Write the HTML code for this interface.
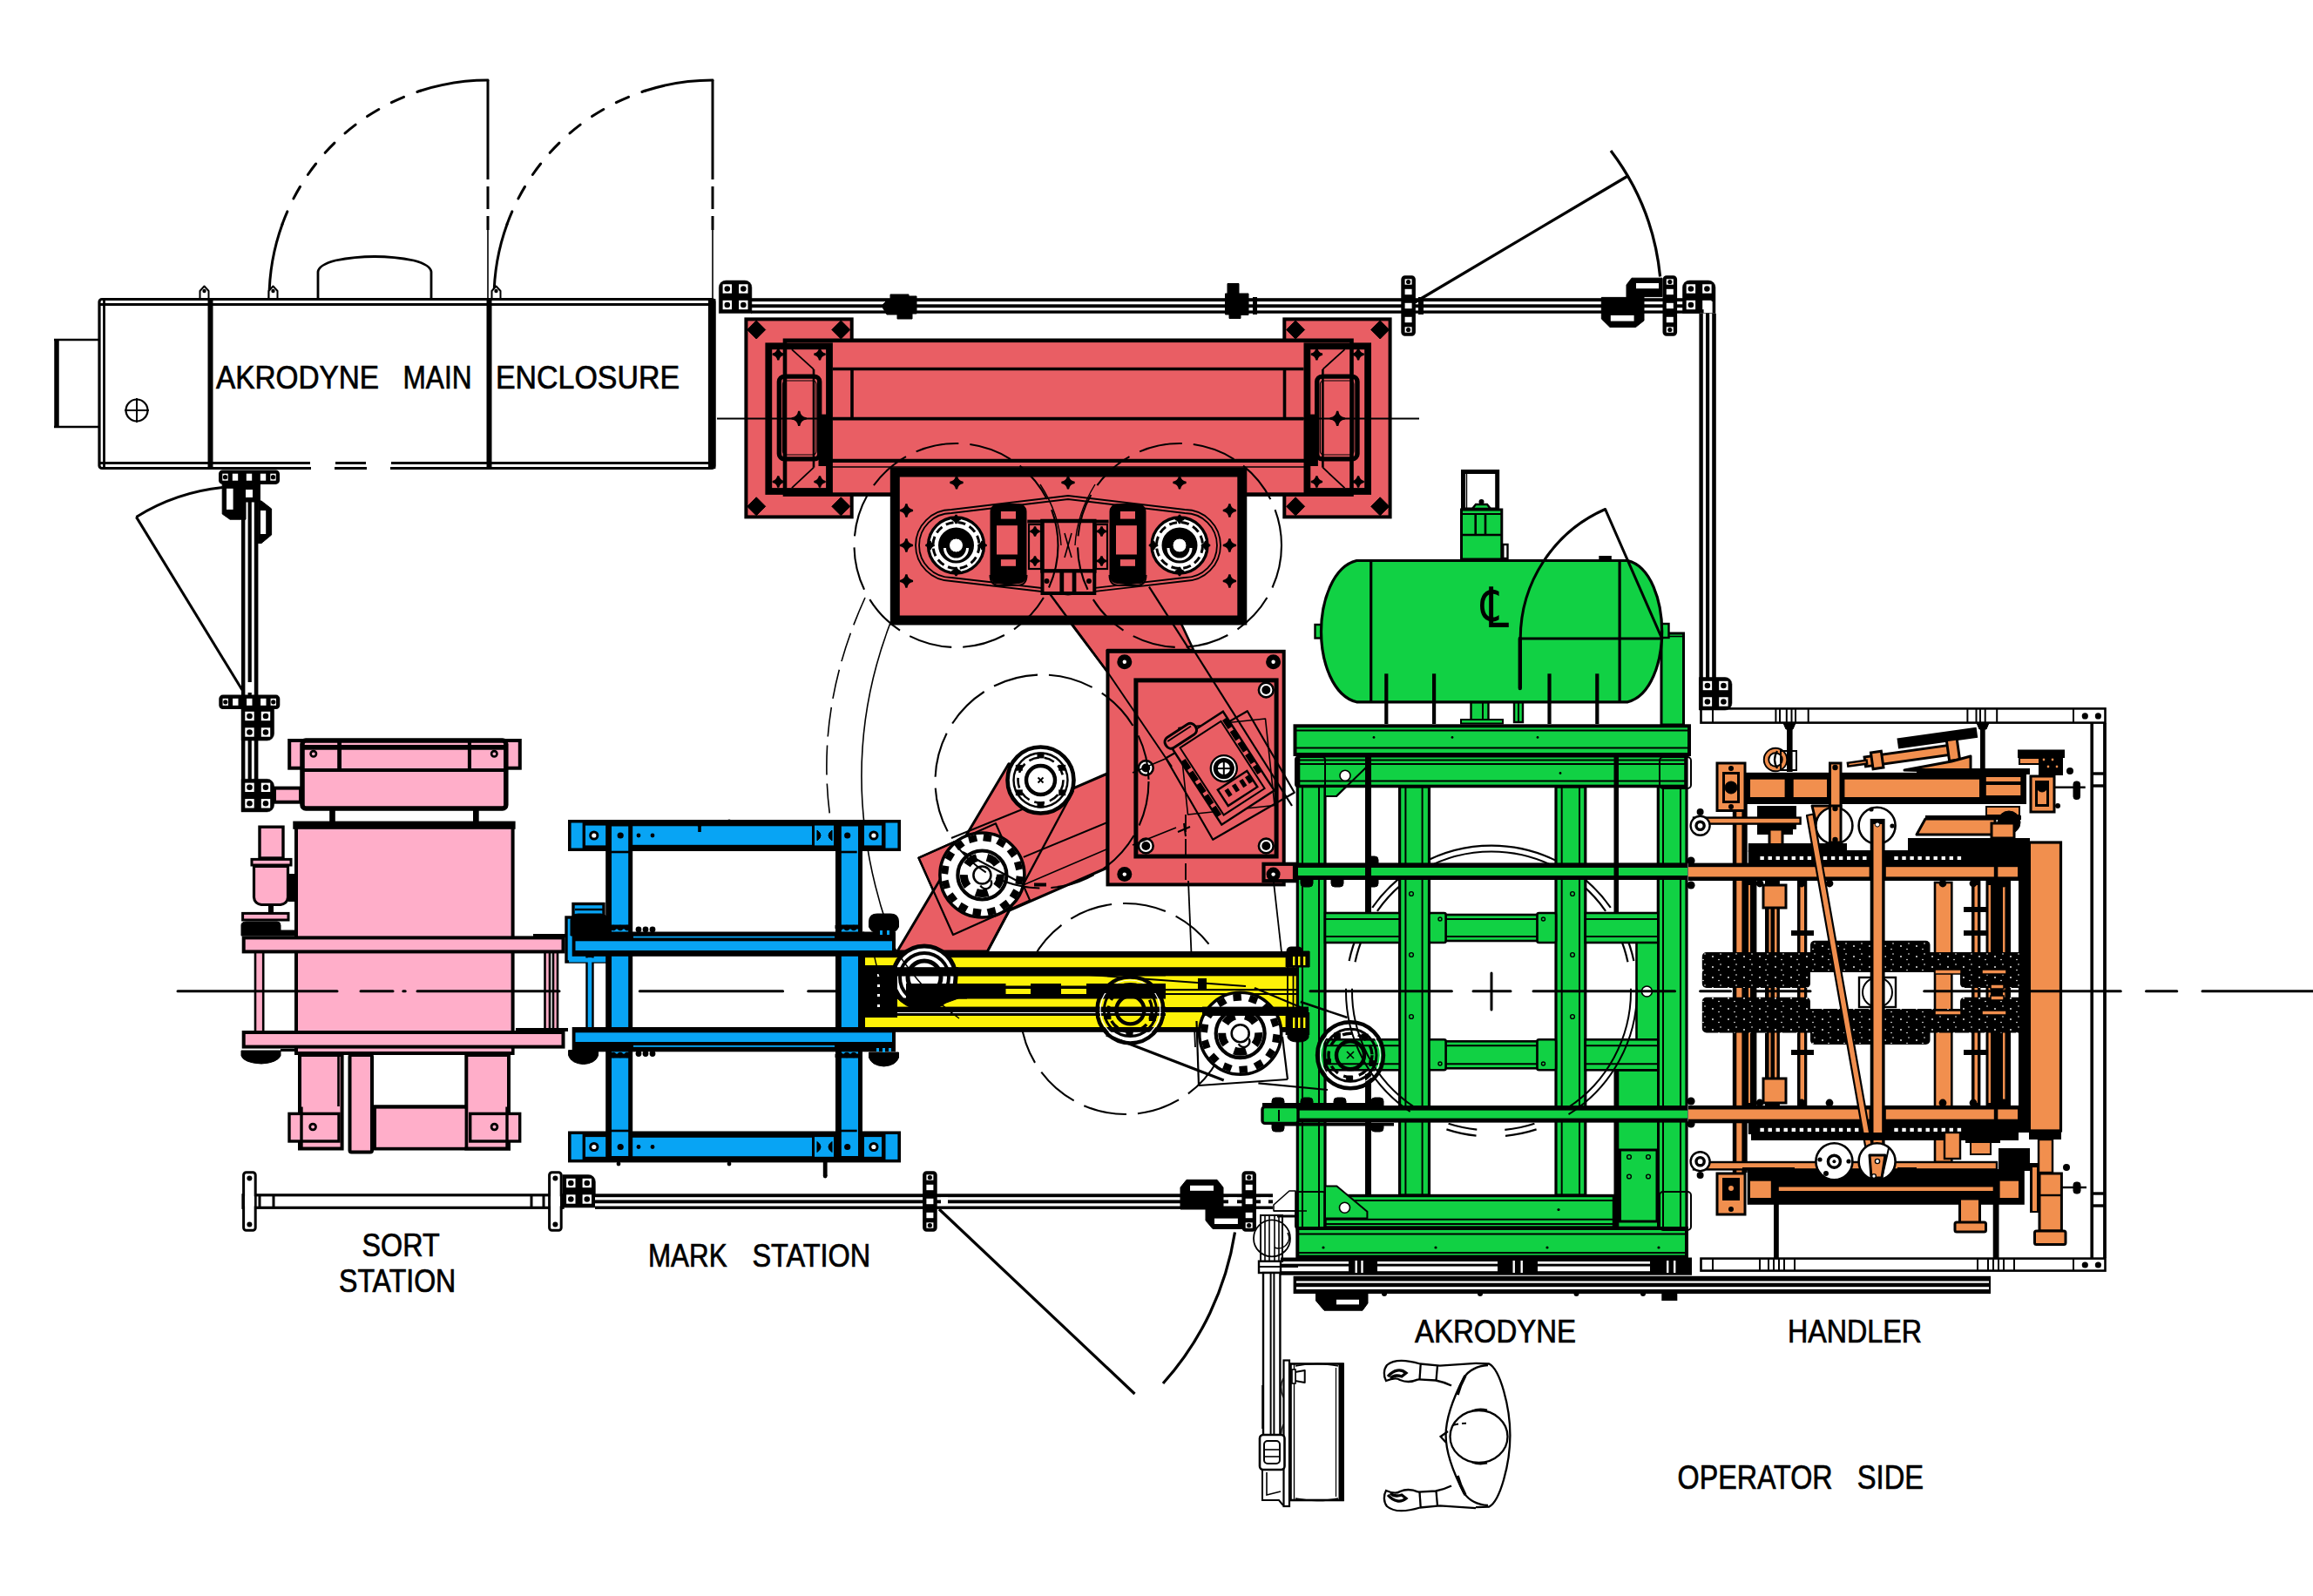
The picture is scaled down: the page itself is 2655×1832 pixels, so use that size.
<!DOCTYPE html>
<html><head><meta charset="utf-8"><title>Layout</title>
<style>html,body{margin:0;padding:0;background:#fff}svg{display:block}text{font-family:"Liberation Sans",sans-serif;fill:#000;stroke:#000;stroke-width:0.7px}</style>
</head><body>
<svg width="2655" height="1832" viewBox="0 0 2655 1832">
<rect width="2655" height="1832" fill="#fff"/>
<!-- p_enclosure -->
<path d="M309 343 A251 251 0 0 1 324.1 257.2" fill="none" stroke="#000" stroke-width="3" stroke-linecap="round"/>
<path d="M324.1 257.2 A251 251 0 0 1 482.4 104.3" fill="none" stroke="#000" stroke-width="3" stroke-dasharray="15.5 16.5" stroke-linecap="round"/>
<path d="M482.4 104.3 A251 251 0 0 1 560 92" fill="none" stroke="#000" stroke-width="3" stroke-linecap="round"/>
<line x1="560" y1="92" x2="560" y2="180" stroke="#000" stroke-width="3"/>
<line x1="560" y1="180" x2="560" y2="264" stroke="#000" stroke-width="3" stroke-dasharray="26 8"/>
<line x1="560" y1="264" x2="560" y2="343" stroke="#000" stroke-width="1.6"/>
<path d="M567 343 A251 251 0 0 1 582.1 257.2" fill="none" stroke="#000" stroke-width="3" stroke-linecap="round"/>
<path d="M582.1 257.2 A251 251 0 0 1 740.4 104.3" fill="none" stroke="#000" stroke-width="3" stroke-dasharray="15.5 16.5" stroke-linecap="round"/>
<path d="M740.4 104.3 A251 251 0 0 1 818 92" fill="none" stroke="#000" stroke-width="3" stroke-linecap="round"/>
<line x1="818" y1="92" x2="818" y2="180" stroke="#000" stroke-width="3"/>
<line x1="818" y1="180" x2="818" y2="264" stroke="#000" stroke-width="3" stroke-dasharray="26 8"/>
<line x1="818" y1="264" x2="818" y2="343" stroke="#000" stroke-width="1.6"/>
<path d="M365 342 V312 Q366 304 385 299 Q430 290 475 299 Q494 304 495 312 V342" fill="none" stroke="#000" stroke-width="2.8"/>
<line x1="62" y1="390" x2="113" y2="390" stroke="#000" stroke-width="2.4"/>
<line x1="62" y1="490" x2="113" y2="490" stroke="#000" stroke-width="2.4"/>
<line x1="65" y1="389" x2="65" y2="491" stroke="#000" stroke-width="5.5"/>
<rect x="114" y="343.5" width="706" height="194" fill="#fff" stroke="#000" stroke-width="3.2" rx="3"/>
<line x1="114" y1="349.5" x2="820" y2="349.5" stroke="#000" stroke-width="2.8"/>
<line x1="119.5" y1="344" x2="119.5" y2="537" stroke="#000" stroke-width="2.8"/>
<rect x="812.9" y="343" width="8.5" height="195" fill="#000"/>
<line x1="114" y1="531.5" x2="356" y2="531.5" stroke="#000" stroke-width="3"/>
<line x1="385" y1="531.5" x2="420" y2="531.5" stroke="#000" stroke-width="3"/>
<line x1="449" y1="531.5" x2="820" y2="531.5" stroke="#000" stroke-width="3"/>
<rect x="357" y="534" width="27" height="7" fill="#fff"/>
<rect x="421" y="534" width="27" height="7" fill="#fff"/>
<line x1="241.5" y1="343" x2="241.5" y2="538" stroke="#000" stroke-width="6"/>
<line x1="561.5" y1="343" x2="561.5" y2="538" stroke="#000" stroke-width="6"/>
<path d="M229.5 343 L229.5 334 L234.5 328.5 L239.5 334 L239.5 343 Z" fill="#fff" stroke="#000" stroke-width="2" stroke-linejoin="round"/>
<circle cx="234.5" cy="334" r="2.2" fill="#000"/>
<path d="M308.5 343 L308.5 334 L313.5 328.5 L318.5 334 L318.5 343 Z" fill="#fff" stroke="#000" stroke-width="2" stroke-linejoin="round"/>
<circle cx="313.5" cy="334" r="2.2" fill="#000"/>
<path d="M564.5 343 L564.5 334 L569.5 328.5 L574.5 334 L574.5 343 Z" fill="#fff" stroke="#000" stroke-width="2" stroke-linejoin="round"/>
<circle cx="569.5" cy="334" r="2.2" fill="#000"/>
<circle cx="157" cy="471" r="12.5" fill="none" stroke="#000" stroke-width="2.2"/>
<line x1="143" y1="471" x2="171" y2="471" stroke="#000" stroke-width="2"/>
<line x1="157" y1="457" x2="157" y2="485" stroke="#000" stroke-width="2"/>
<text x="248" y="445.5" font-size="36" text-anchor="start" textLength="187" lengthAdjust="spacingAndGlyphs">AKRODYNE</text>
<text x="462.5" y="445.5" font-size="36" text-anchor="start" textLength="79" lengthAdjust="spacingAndGlyphs">MAIN</text>
<text x="569" y="445.5" font-size="36" text-anchor="start" textLength="211" lengthAdjust="spacingAndGlyphs">ENCLOSURE</text>
<!-- p_fence -->
<rect x="862" y="342.2" width="1089" height="17.6" fill="#000"/>
<rect x="862" y="346.1" width="1089" height="3.2" fill="#fff"/>
<rect x="862" y="353.2" width="1089" height="3.2" fill="#fff"/>
<path d="M833.3 322 H854.9 A8 8 0 0 1 862.9 330 V359.6  H825.3  V330 A8 8 0 0 1 833.3 322 Z " fill="#000" stroke="#000" stroke-width="0.5"/>
<rect x="829.6" y="326.3" width="10.4" height="10.4" fill="#fff"/>
<circle cx="834.8" cy="331.5" r="3.3" fill="#000"/>
<rect x="848.1" y="326.3" width="10.4" height="10.4" fill="#fff"/>
<circle cx="853.3" cy="331.5" r="3.3" fill="#000"/>
<rect x="829.6" y="344.8" width="10.4" height="10.4" fill="#fff"/>
<circle cx="834.8" cy="350" r="3.3" fill="#000"/>
<rect x="848.1" y="344.8" width="10.4" height="10.4" fill="#fff"/>
<circle cx="853.3" cy="350" r="3.3" fill="#000"/>
<path d="M1012 351 L1018 345 H1022 V338 H1043 V340 H1052 V360 H1047 V366 H1030 V361 H1018 Z" fill="#000" stroke="#000" stroke-width="1"/>
<path d="M1409 325.5 H1422 V337 H1433 V361.5 H1424 V365.5 H1411 V361 H1406.5 V337 H1409 Z" fill="#000" stroke="#000" stroke-width="1"/>
<rect x="1438" y="341" width="5" height="20" fill="#000"/>
<rect x="1609.8" y="317.8" width="13.6" height="66.4" fill="#000" stroke="#000" stroke-width="3" rx="3"/>
<rect x="1612.6" y="320.3" width="8" height="6.4" fill="#fff"/>
<rect x="1612.6" y="331.8" width="8" height="6.4" fill="#fff"/>
<rect x="1612.6" y="347.8" width="8" height="6.4" fill="#fff"/>
<rect x="1612.6" y="363.8" width="8" height="6.4" fill="#fff"/>
<rect x="1612.6" y="375.3" width="8" height="6.4" fill="#fff"/>
<circle cx="1616.6" cy="323.5" r="2.6" fill="#000"/>
<circle cx="1616.6" cy="378.5" r="2.6" fill="#000"/>
<rect x="1628" y="341" width="6" height="20" fill="#000"/>
<line x1="1624" y1="347" x2="1868.5" y2="202" stroke="#000" stroke-width="3.2"/>
<path d="M1849 173 A285 285 0 0 1 1905.6 317.5" fill="none" stroke="#000" stroke-width="3.2"/>
<path d="M1867 327 L1873 319.2 H1908 V340.6 H1887 V368 L1877.5 375.6 H1848 L1838.3 366 V341.4 H1867 Z" fill="#000" stroke="#000" stroke-width="1"/>
<rect x="1878" y="325" width="26" height="6.2" fill="#fff"/>
<rect x="1848.8" y="362" width="26.8" height="6.6" fill="#fff"/>
<rect x="1910" y="317.8" width="13.6" height="66.4" fill="#000" stroke="#000" stroke-width="3" rx="3"/>
<rect x="1912.8" y="320.3" width="8" height="6.4" fill="#fff"/>
<rect x="1912.8" y="331.8" width="8" height="6.4" fill="#fff"/>
<rect x="1912.8" y="347.8" width="8" height="6.4" fill="#fff"/>
<rect x="1912.8" y="363.8" width="8" height="6.4" fill="#fff"/>
<rect x="1912.8" y="375.3" width="8" height="6.4" fill="#fff"/>
<circle cx="1916.8" cy="323.5" r="2.6" fill="#000"/>
<circle cx="1916.8" cy="378.5" r="2.6" fill="#000"/>
<path d="M1939.4 322 H1961 A8 8 0 0 1 1969 330 V359.6  H1931.4  V330 A8 8 0 0 1 1939.4 322 Z " fill="#000" stroke="#000" stroke-width="0.5"/>
<rect x="1935.7" y="326.3" width="10.4" height="10.4" fill="#fff"/>
<circle cx="1940.9" cy="331.5" r="3.3" fill="#000"/>
<rect x="1954.2" y="326.3" width="10.4" height="10.4" fill="#fff"/>
<circle cx="1959.4" cy="331.5" r="3.3" fill="#000"/>
<rect x="1935.7" y="344.8" width="10.4" height="10.4" fill="#fff"/>
<circle cx="1940.9" cy="350" r="3.3" fill="#000"/>
<rect x="1954.2" y="344.8" width="10.4" height="10.4" fill="#fff"/>
<circle cx="1959.4" cy="350" r="3.3" fill="#000"/>
<rect x="1955.6" y="346" width="10" height="13" fill="#fff"/>
<rect x="1950.4" y="359.8" width="19.4" height="455.2" fill="#000"/>
<rect x="1954.8" y="359.8" width="3.2" height="455.2" fill="#fff"/>
<rect x="1962.2" y="359.8" width="3" height="455.2" fill="#fff"/>
<rect x="252.5" y="541" width="67" height="13.4" fill="#000" stroke="#000" stroke-width="3" rx="3"/>
<rect x="255.3" y="543.7" width="6.4" height="8" fill="#fff"/>
<rect x="266.8" y="543.7" width="6.4" height="8" fill="#fff"/>
<rect x="282.8" y="543.7" width="6.4" height="8" fill="#fff"/>
<rect x="298.8" y="543.7" width="6.4" height="8" fill="#fff"/>
<rect x="310.3" y="543.7" width="6.4" height="8" fill="#fff"/>
<circle cx="258.5" cy="547.7" r="2.6" fill="#000"/>
<circle cx="313.5" cy="547.7" r="2.6" fill="#000"/>
<rect x="277" y="555.6" width="19.4" height="374.4" fill="#000"/>
<rect x="281.4" y="555.6" width="3.2" height="374.4" fill="#fff"/>
<rect x="288.8" y="555.6" width="3" height="374.4" fill="#fff"/>
<path d="M255.2 555.6 H298.4 V576 H282 V596.2 H264 L255.2 590 Z" fill="#000" stroke="#000" stroke-width="1"/>
<rect x="260" y="560.8" width="7.6" height="24.1" fill="#fff"/>
<rect x="282" y="562" width="8" height="9" fill="#fff"/>
<path d="M296.2 575 H300 L311.6 584 V614 L300 623.6 H296.2 Z" fill="#000" stroke="#000" stroke-width="1"/>
<rect x="299" y="586" width="6.2" height="27" fill="#fff"/>
<line x1="278" y1="792" x2="156.4" y2="593.4" stroke="#000" stroke-width="3"/>
<path d="M156.4 593.4 A233 233 0 0 1 255.5 559.5" fill="none" stroke="#000" stroke-width="3"/>
<rect x="252.8" y="799.1" width="67" height="13.4" fill="#000" stroke="#000" stroke-width="3" rx="3"/>
<rect x="255.6" y="801.8" width="6.4" height="8" fill="#fff"/>
<rect x="267.1" y="801.8" width="6.4" height="8" fill="#fff"/>
<rect x="283.1" y="801.8" width="6.4" height="8" fill="#fff"/>
<rect x="299.1" y="801.8" width="6.4" height="8" fill="#fff"/>
<rect x="310.6" y="801.8" width="6.4" height="8" fill="#fff"/>
<circle cx="258.8" cy="805.8" r="2.6" fill="#000"/>
<circle cx="313.8" cy="805.8" r="2.6" fill="#000"/>
<rect x="282.5" y="783" width="8.5" height="12" fill="#fff"/>
<path d="M277 812.5 H314.6  V842.1 A8 8 0 0 1 306.6 850.1 H277  Z " fill="#000" stroke="#000" stroke-width="0.5"/>
<rect x="281.3" y="816.8" width="10.4" height="10.4" fill="#fff"/>
<circle cx="286.5" cy="822" r="3.3" fill="#000"/>
<rect x="299.8" y="816.8" width="10.4" height="10.4" fill="#fff"/>
<circle cx="305" cy="822" r="3.3" fill="#000"/>
<rect x="281.3" y="835.3" width="10.4" height="10.4" fill="#fff"/>
<circle cx="286.5" cy="840.5" r="3.3" fill="#000"/>
<rect x="299.8" y="835.3" width="10.4" height="10.4" fill="#fff"/>
<circle cx="305" cy="840.5" r="3.3" fill="#000"/>
<path d="M277 894.3 H306.6 A8 8 0 0 1 314.6 902.3 V923.9 A8 8 0 0 1 306.6 931.9 H277  Z " fill="#000" stroke="#000" stroke-width="0.5"/>
<rect x="281.3" y="898.6" width="10.4" height="10.4" fill="#fff"/>
<circle cx="286.5" cy="903.8" r="3.3" fill="#000"/>
<rect x="299.8" y="898.6" width="10.4" height="10.4" fill="#fff"/>
<circle cx="305" cy="903.8" r="3.3" fill="#000"/>
<rect x="281.3" y="917.1" width="10.4" height="10.4" fill="#fff"/>
<circle cx="286.5" cy="922.3" r="3.3" fill="#000"/>
<rect x="299.8" y="917.1" width="10.4" height="10.4" fill="#fff"/>
<circle cx="305" cy="922.3" r="3.3" fill="#000"/>
<rect x="279" y="1371.8" width="367" height="14.5" fill="#fff" stroke="#000" stroke-width="3.2"/>
<line x1="298" y1="1372" x2="298" y2="1386" stroke="#000" stroke-width="3"/>
<line x1="314" y1="1372" x2="314" y2="1386" stroke="#000" stroke-width="3"/>
<line x1="610" y1="1372" x2="610" y2="1386" stroke="#000" stroke-width="3"/>
<line x1="624" y1="1372" x2="624" y2="1386" stroke="#000" stroke-width="3"/>
<rect x="279.6" y="1345.8" width="13.6" height="66.4" fill="#fff" stroke="#000" stroke-width="3" rx="3"/>
<circle cx="286.4" cy="1352.5" r="3" fill="#000"/>
<circle cx="286.4" cy="1405.5" r="3" fill="#000"/>
<rect x="630.6" y="1345.8" width="13.6" height="66.4" fill="#fff" stroke="#000" stroke-width="3" rx="3"/>
<circle cx="637.4" cy="1352.5" r="3" fill="#000"/>
<circle cx="637.4" cy="1405.5" r="3" fill="#000"/>
<rect x="281" y="1373.4" width="11" height="11" fill="#fff"/>
<rect x="632" y="1373.4" width="11" height="11" fill="#fff"/>
<path d="M645.8 1348.5 H675.4 A8 8 0 0 1 683.4 1356.5 V1386.1  H645.8  Z " fill="#000" stroke="#000" stroke-width="0.5"/>
<rect x="650.1" y="1352.8" width="10.4" height="10.4" fill="#fff"/>
<circle cx="655.3" cy="1358" r="3.3" fill="#000"/>
<rect x="668.6" y="1352.8" width="10.4" height="10.4" fill="#fff"/>
<circle cx="673.8" cy="1358" r="3.3" fill="#000"/>
<rect x="650.1" y="1371.3" width="10.4" height="10.4" fill="#fff"/>
<circle cx="655.3" cy="1376.5" r="3.3" fill="#000"/>
<rect x="668.6" y="1371.3" width="10.4" height="10.4" fill="#fff"/>
<circle cx="673.8" cy="1376.5" r="3.3" fill="#000"/>
<rect x="683" y="1370.3" width="778" height="17.6" fill="#000"/>
<rect x="683" y="1374.2" width="778" height="3.2" fill="#fff"/>
<rect x="683" y="1381.3" width="778" height="3.2" fill="#fff"/>
<rect x="1060.6" y="1345.8" width="13.6" height="66.4" fill="#000" stroke="#000" stroke-width="3" rx="3"/>
<rect x="1063.4" y="1348.3" width="8" height="6.4" fill="#fff"/>
<rect x="1063.4" y="1359.8" width="8" height="6.4" fill="#fff"/>
<rect x="1063.4" y="1375.8" width="8" height="6.4" fill="#fff"/>
<rect x="1063.4" y="1391.8" width="8" height="6.4" fill="#fff"/>
<rect x="1063.4" y="1403.3" width="8" height="6.4" fill="#fff"/>
<circle cx="1067.4" cy="1351.5" r="2.6" fill="#000"/>
<circle cx="1067.4" cy="1406.5" r="2.6" fill="#000"/>
<rect x="1080" y="1374.5" width="8" height="9" fill="#fff"/>
<line x1="1078" y1="1388" x2="1302.5" y2="1600" stroke="#000" stroke-width="3.2"/>
<path d="M1417.5 1414.5 A338 338 0 0 1 1335 1588" fill="none" stroke="#000" stroke-width="3.2"/>
<path d="M1355 1363 L1362 1354.3 H1397 L1404 1363 V1387.7 H1439.8 V1410.5 H1392 L1384 1401 V1388 H1355 Z" fill="#000" stroke="#000" stroke-width="1"/>
<rect x="1366" y="1360.8" width="27" height="6" fill="#fff"/>
<rect x="1394" y="1398.6" width="26.9" height="6.4" fill="#fff"/>
<rect x="1426.9" y="1345.8" width="13.6" height="66.4" fill="#000" stroke="#000" stroke-width="3" rx="3"/>
<rect x="1429.7" y="1348.3" width="8" height="6.4" fill="#fff"/>
<rect x="1429.7" y="1359.8" width="8" height="6.4" fill="#fff"/>
<rect x="1429.7" y="1375.8" width="8" height="6.4" fill="#fff"/>
<rect x="1429.7" y="1391.8" width="8" height="6.4" fill="#fff"/>
<rect x="1429.7" y="1403.3" width="8" height="6.4" fill="#fff"/>
<circle cx="1433.7" cy="1351.5" r="2.6" fill="#000"/>
<circle cx="1433.7" cy="1406.5" r="2.6" fill="#000"/>
<rect x="1410" y="1374.5" width="10" height="9" fill="#fff"/>
<rect x="1447" y="1374.5" width="9" height="9" fill="#fff"/>
<!-- p_red -->
<circle cx="1292" cy="1158" r="121" fill="none" stroke="#000" stroke-width="2.1" stroke-dasharray="50 13"/>
<path d="M1022 715 Q953 895 1028 1090" fill="none" stroke="#000" stroke-width="1.6"/>
<path d="M993 686 Q900 890 1003 1095" fill="none" stroke="#000" stroke-width="1.6" stroke-dasharray="34 10"/>
<rect x="856.4" y="366.4" width="121.3" height="227" fill="#e95e64" stroke="#000" stroke-width="4"/>
<rect x="1474.3" y="366.4" width="121.3" height="227" fill="#e95e64" stroke="#000" stroke-width="4"/>
<rect x="901" y="390.8" width="650.5" height="176.8" fill="#e95e64" stroke="#000" stroke-width="4.6"/>
<line x1="955.9" y1="423.5" x2="1496.5" y2="423.5" stroke="#000" stroke-width="3.6"/>
<line x1="955.9" y1="480.6" x2="1496.5" y2="480.6" stroke="#000" stroke-width="3.6"/>
<line x1="952" y1="528.8" x2="1500" y2="528.8" stroke="#000" stroke-width="4.2"/>
<line x1="955" y1="536" x2="1497" y2="536" stroke="#000" stroke-width="1.6"/>
<line x1="978" y1="425" x2="978" y2="479" stroke="#000" stroke-width="3.6"/>
<line x1="1474.5" y1="425" x2="1474.5" y2="479" stroke="#000" stroke-width="3.6"/>
<line x1="823" y1="480.6" x2="1629" y2="480.6" stroke="#000" stroke-width="2"/>
<rect x="882.3" y="397.3" width="69.7" height="166.7" fill="none" stroke="#000" stroke-width="7.8"/>
<line x1="900.3" y1="401" x2="900.3" y2="560" stroke="#000" stroke-width="1.6"/>
<line x1="908.9" y1="401.2" x2="934" y2="423.9" stroke="#000" stroke-width="1.8"/>
<line x1="934" y1="423.9" x2="934" y2="536.7" stroke="#000" stroke-width="2.6"/>
<line x1="934" y1="536.7" x2="908.9" y2="560.2" stroke="#000" stroke-width="1.8"/>
<rect x="894.4" y="432.1" width="46.3" height="94.8" fill="none" stroke="#000" stroke-width="5.4" rx="6"/>
<rect x="898.5" y="437" width="38.5" height="85" fill="none" stroke="#000" stroke-width="1.2" rx="4"/>
<rect x="939.5" y="475.6" width="12.5" height="59.4" fill="#000"/>
<path d="M908.7 480.3 Q916.2 479.3 917.2 471.8 Q918.2 479.3 925.7 480.3 Q918.2 481.3 917.2 488.8 Q916.2 481.3 908.7 480.3 Z" fill="#000" stroke="#000" stroke-width="2.2"/>
<circle cx="917.2" cy="480.3" r="4.2" fill="#000"/>
<path d="M886.8 406.7 Q892.3 405.7 893.3 400.2 Q894.3 405.7 899.8 406.7 Q894.3 407.7 893.3 413.2 Q892.3 407.7 886.8 406.7 Z" fill="#000" stroke="#000" stroke-width="2.2"/>
<circle cx="893.3" cy="406.7" r="3.2" fill="#000"/>
<path d="M934.5 406.7 Q940 405.7 941 400.2 Q942 405.7 947.5 406.7 Q942 407.7 941 413.2 Q940 407.7 934.5 406.7 Z" fill="#000" stroke="#000" stroke-width="2.2"/>
<circle cx="941" cy="406.7" r="3.2" fill="#000"/>
<path d="M886.8 553 Q892.3 552 893.3 546.5 Q894.3 552 899.8 553 Q894.3 554 893.3 559.5 Q892.3 554 886.8 553 Z" fill="#000" stroke="#000" stroke-width="2.2"/>
<circle cx="893.3" cy="553" r="3.2" fill="#000"/>
<path d="M934.5 553 Q940 552 941 546.5 Q942 552 947.5 553 Q942 554 941 559.5 Q940 554 934.5 553 Z" fill="#000" stroke="#000" stroke-width="2.2"/>
<circle cx="941" cy="553" r="3.2" fill="#000"/>
<path d="M857.7 378.5 L868.2 368 L878.7 378.5 L868.2 389 Z" fill="#000" stroke="#000" stroke-width="1" stroke-linejoin="round"/>
<path d="M954.8 378.5 L965.3 368 L975.8 378.5 L965.3 389 Z" fill="#000" stroke="#000" stroke-width="1" stroke-linejoin="round"/>
<path d="M857.7 581.3 L868.2 570.8 L878.7 581.3 L868.2 591.8 Z" fill="#000" stroke="#000" stroke-width="1" stroke-linejoin="round"/>
<path d="M954.8 581.3 L965.3 570.8 L975.8 581.3 L965.3 591.8 Z" fill="#000" stroke="#000" stroke-width="1" stroke-linejoin="round"/>
<rect x="1500.4" y="397.3" width="69.7" height="166.7" fill="none" stroke="#000" stroke-width="7.8"/>
<line x1="1552.1" y1="401" x2="1552.1" y2="560" stroke="#000" stroke-width="1.6"/>
<line x1="1543.5" y1="401.2" x2="1518.4" y2="423.9" stroke="#000" stroke-width="1.8"/>
<line x1="1518.4" y1="423.9" x2="1518.4" y2="536.7" stroke="#000" stroke-width="2.6"/>
<line x1="1518.4" y1="536.7" x2="1543.5" y2="560.2" stroke="#000" stroke-width="1.8"/>
<rect x="1511.7" y="432.1" width="46.3" height="94.8" fill="none" stroke="#000" stroke-width="5.4" rx="6"/>
<rect x="1515.4" y="437" width="38.5" height="85" fill="none" stroke="#000" stroke-width="1.2" rx="4"/>
<rect x="1500.4" y="475.6" width="12.5" height="59.4" fill="#000"/>
<path d="M1526.7 480.3 Q1534.2 479.3 1535.2 471.8 Q1536.2 479.3 1543.7 480.3 Q1536.2 481.3 1535.2 488.8 Q1534.2 481.3 1526.7 480.3 Z" fill="#000" stroke="#000" stroke-width="2.2"/>
<circle cx="1535.2" cy="480.3" r="4.2" fill="#000"/>
<path d="M1552.6 406.7 Q1558.1 405.7 1559.1 400.2 Q1560.1 405.7 1565.6 406.7 Q1560.1 407.7 1559.1 413.2 Q1558.1 407.7 1552.6 406.7 Z" fill="#000" stroke="#000" stroke-width="2.2"/>
<circle cx="1559.1" cy="406.7" r="3.2" fill="#000"/>
<path d="M1504.9 406.7 Q1510.4 405.7 1511.4 400.2 Q1512.4 405.7 1517.9 406.7 Q1512.4 407.7 1511.4 413.2 Q1510.4 407.7 1504.9 406.7 Z" fill="#000" stroke="#000" stroke-width="2.2"/>
<circle cx="1511.4" cy="406.7" r="3.2" fill="#000"/>
<path d="M1552.6 553 Q1558.1 552 1559.1 546.5 Q1560.1 552 1565.6 553 Q1560.1 554 1559.1 559.5 Q1558.1 554 1552.6 553 Z" fill="#000" stroke="#000" stroke-width="2.2"/>
<circle cx="1559.1" cy="553" r="3.2" fill="#000"/>
<path d="M1504.9 553 Q1510.4 552 1511.4 546.5 Q1512.4 552 1517.9 553 Q1512.4 554 1511.4 559.5 Q1510.4 554 1504.9 553 Z" fill="#000" stroke="#000" stroke-width="2.2"/>
<circle cx="1511.4" cy="553" r="3.2" fill="#000"/>
<path d="M1573.7 378.5 L1584.2 368 L1594.7 378.5 L1584.2 389 Z" fill="#000" stroke="#000" stroke-width="1" stroke-linejoin="round"/>
<path d="M1476.6 378.5 L1487.1 368 L1497.6 378.5 L1487.1 389 Z" fill="#000" stroke="#000" stroke-width="1" stroke-linejoin="round"/>
<path d="M1573.7 581.3 L1584.2 570.8 L1594.7 581.3 L1584.2 591.8 Z" fill="#000" stroke="#000" stroke-width="1" stroke-linejoin="round"/>
<path d="M1476.6 581.3 L1487.1 570.8 L1497.6 581.3 L1487.1 591.8 Z" fill="#000" stroke="#000" stroke-width="1" stroke-linejoin="round"/>
<path d="M1228 714 L1355 714 L1370 746 L1271 746 L1271 771 Z" fill="#e95e64" stroke="#000" stroke-width="2.6" stroke-linejoin="round"/>
<rect x="1027.3" y="542" width="398.5" height="170" fill="#e95e64" stroke="#000" stroke-width="11"/>
<path d="M1090.5 553.8 Q1097 552.8 1098 546.3 Q1099 552.8 1105.5 553.8 Q1099 554.8 1098 561.3 Q1097 554.8 1090.5 553.8 Z" fill="#000" stroke="#000" stroke-width="2.2"/>
<circle cx="1098" cy="553.8" r="3.8" fill="#000"/>
<path d="M1218.5 553.8 Q1225 552.8 1226 546.3 Q1227 552.8 1233.5 553.8 Q1227 554.8 1226 561.3 Q1225 554.8 1218.5 553.8 Z" fill="#000" stroke="#000" stroke-width="2.2"/>
<circle cx="1226" cy="553.8" r="3.8" fill="#000"/>
<path d="M1346.5 553.8 Q1353 552.8 1354 546.3 Q1355 552.8 1361.5 553.8 Q1355 554.8 1354 561.3 Q1353 554.8 1346.5 553.8 Z" fill="#000" stroke="#000" stroke-width="2.2"/>
<circle cx="1354" cy="553.8" r="3.8" fill="#000"/>
<path d="M1032.9 586 Q1039.4 585 1040.4 578.5 Q1041.4 585 1047.9 586 Q1041.4 587 1040.4 593.5 Q1039.4 587 1032.9 586 Z" fill="#000" stroke="#000" stroke-width="2.2"/>
<circle cx="1040.4" cy="586" r="3.8" fill="#000"/>
<path d="M1403.9 586 Q1410.4 585 1411.4 578.5 Q1412.4 585 1418.9 586 Q1412.4 587 1411.4 593.5 Q1410.4 587 1403.9 586 Z" fill="#000" stroke="#000" stroke-width="2.2"/>
<circle cx="1411.4" cy="586" r="3.8" fill="#000"/>
<path d="M1032.9 626 Q1039.4 625 1040.4 618.5 Q1041.4 625 1047.9 626 Q1041.4 627 1040.4 633.5 Q1039.4 627 1032.9 626 Z" fill="#000" stroke="#000" stroke-width="2.2"/>
<circle cx="1040.4" cy="626" r="3.8" fill="#000"/>
<path d="M1403.9 626 Q1410.4 625 1411.4 618.5 Q1412.4 625 1418.9 626 Q1412.4 627 1411.4 633.5 Q1410.4 627 1403.9 626 Z" fill="#000" stroke="#000" stroke-width="2.2"/>
<circle cx="1411.4" cy="626" r="3.8" fill="#000"/>
<path d="M1032.9 667 Q1039.4 666 1040.4 659.5 Q1041.4 666 1047.9 667 Q1041.4 668 1040.4 674.5 Q1039.4 668 1032.9 667 Z" fill="#000" stroke="#000" stroke-width="2.2"/>
<circle cx="1040.4" cy="667" r="3.8" fill="#000"/>
<path d="M1403.9 667 Q1410.4 666 1411.4 659.5 Q1412.4 666 1418.9 667 Q1412.4 668 1411.4 674.5 Q1410.4 668 1403.9 667 Z" fill="#000" stroke="#000" stroke-width="2.2"/>
<circle cx="1411.4" cy="667" r="3.8" fill="#000"/>
<path d="M1092 585 L1226 569 L1360 585 A41 41 0 0 1 1360 667 L1226 682.5 L1092 667 A41 41 0 0 1 1092 585 Z" fill="none" stroke="#000" stroke-width="1.8"/>
<path d="M1092 589 L1226 573 L1360 589 A37 37 0 0 1 1360 663 L1226 678.5 L1092 663 A37 37 0 0 1 1092 589 Z" fill="none" stroke="#000" stroke-width="1.8"/>
<circle cx="1097.5" cy="626" r="32" fill="#fff" stroke="#000" stroke-width="3.4"/>
<circle cx="1097.5" cy="626" r="26.5" fill="none" stroke="#000" stroke-width="3" stroke-dasharray="9 5"/>
<circle cx="1097.5" cy="626" r="17" fill="#000" stroke="#000" stroke-width="7"/>
<circle cx="1097.5" cy="626" r="8" fill="#fff" stroke="#000" stroke-width="1"/>
<path d="M1084.5 629 A13 13 0 0 0 1110.5 629" fill="none" stroke="#fff" stroke-width="3"/>
<path d="M1122.5 626 Q1126.5 625 1127.5 621 Q1128.5 625 1132.5 626 Q1128.5 627 1127.5 631 Q1126.5 627 1122.5 626 Z" fill="#000" stroke="#000" stroke-width="2.2"/>
<circle cx="1127.5" cy="626" r="2.5" fill="#000"/>
<path d="M1092.5 656 Q1096.5 655 1097.5 651 Q1098.5 655 1102.5 656 Q1098.5 657 1097.5 661 Q1096.5 657 1092.5 656 Z" fill="#000" stroke="#000" stroke-width="2.2"/>
<circle cx="1097.5" cy="656" r="2.5" fill="#000"/>
<path d="M1062.5 626 Q1066.5 625 1067.5 621 Q1068.5 625 1072.5 626 Q1068.5 627 1067.5 631 Q1066.5 627 1062.5 626 Z" fill="#000" stroke="#000" stroke-width="2.2"/>
<circle cx="1067.5" cy="626" r="2.5" fill="#000"/>
<path d="M1092.5 596 Q1096.5 595 1097.5 591 Q1098.5 595 1102.5 596 Q1098.5 597 1097.5 601 Q1096.5 597 1092.5 596 Z" fill="#000" stroke="#000" stroke-width="2.2"/>
<circle cx="1097.5" cy="596" r="2.5" fill="#000"/>
<circle cx="1354" cy="626" r="32" fill="#fff" stroke="#000" stroke-width="3.4"/>
<circle cx="1354" cy="626" r="26.5" fill="none" stroke="#000" stroke-width="3" stroke-dasharray="9 5"/>
<circle cx="1354" cy="626" r="17" fill="#000" stroke="#000" stroke-width="7"/>
<circle cx="1354" cy="626" r="8" fill="#fff" stroke="#000" stroke-width="1"/>
<path d="M1341 629 A13 13 0 0 0 1367 629" fill="none" stroke="#fff" stroke-width="3"/>
<path d="M1379 626 Q1383 625 1384 621 Q1385 625 1389 626 Q1385 627 1384 631 Q1383 627 1379 626 Z" fill="#000" stroke="#000" stroke-width="2.2"/>
<circle cx="1384" cy="626" r="2.5" fill="#000"/>
<path d="M1349 656 Q1353 655 1354 651 Q1355 655 1359 656 Q1355 657 1354 661 Q1353 657 1349 656 Z" fill="#000" stroke="#000" stroke-width="2.2"/>
<circle cx="1354" cy="656" r="2.5" fill="#000"/>
<path d="M1319 626 Q1323 625 1324 621 Q1325 625 1329 626 Q1325 627 1324 631 Q1323 627 1319 626 Z" fill="#000" stroke="#000" stroke-width="2.2"/>
<circle cx="1324" cy="626" r="2.5" fill="#000"/>
<path d="M1349 596 Q1353 595 1354 591 Q1355 595 1359 596 Q1355 597 1354 601 Q1353 597 1349 596 Z" fill="#000" stroke="#000" stroke-width="2.2"/>
<circle cx="1354" cy="596" r="2.5" fill="#000"/>
<rect x="1138.5" y="580" width="38" height="88" fill="#000" stroke="#000" stroke-width="4" rx="7"/>
<rect x="1148.9" y="587" width="17.1" height="8.6" fill="#e95e64"/>
<rect x="1144" y="603.2" width="23.9" height="33.3" fill="#e95e64"/>
<rect x="1148.9" y="642.2" width="17.1" height="7.6" fill="#e95e64"/>
<path d="M1136.5 660 Q1136.5 672 1147.5 672 H1167.5 Q1178.5 672 1178.5 660" fill="none" stroke="#000" stroke-width="2"/>
<rect x="1275.5" y="580" width="38" height="88" fill="#000" stroke="#000" stroke-width="4" rx="7"/>
<rect x="1285.9" y="587" width="17.1" height="8.6" fill="#e95e64"/>
<rect x="1281" y="603.2" width="23.9" height="33.3" fill="#e95e64"/>
<rect x="1285.9" y="642.2" width="17.1" height="7.6" fill="#e95e64"/>
<path d="M1273.5 660 Q1273.5 672 1284.5 672 H1304.5 Q1315.5 672 1315.5 660" fill="none" stroke="#000" stroke-width="2"/>
<rect x="1196.5" y="598" width="59.8" height="57.5" fill="#e95e64" stroke="#000" stroke-width="4.5"/>
<rect x="1179.3" y="596.6" width="17.2" height="3.9" fill="#000"/>
<rect x="1256.3" y="596.6" width="16.2" height="3.9" fill="#000"/>
<rect x="1181" y="602" width="14" height="51" fill="none" stroke="#000" stroke-width="2.2"/>
<path d="M1182.5 610 Q1187 609 1188 604.5 Q1189 609 1193.5 610 Q1189 611 1188 615.5 Q1187 611 1182.5 610 Z" fill="#000" stroke="#000" stroke-width="2.2"/>
<circle cx="1188" cy="610" r="2.8" fill="#000"/>
<path d="M1182.5 644 Q1187 643 1188 638.5 Q1189 643 1193.5 644 Q1189 645 1188 649.5 Q1187 645 1182.5 644 Z" fill="#000" stroke="#000" stroke-width="2.2"/>
<circle cx="1188" cy="644" r="2.8" fill="#000"/>
<rect x="1258" y="602" width="13" height="51" fill="none" stroke="#000" stroke-width="2.2"/>
<path d="M1259 610 Q1263.5 609 1264.5 604.5 Q1265.5 609 1270 610 Q1265.5 611 1264.5 615.5 Q1263.5 611 1259 610 Z" fill="#000" stroke="#000" stroke-width="2.2"/>
<circle cx="1264.5" cy="610" r="2.8" fill="#000"/>
<path d="M1259 644 Q1263.5 643 1264.5 638.5 Q1265.5 643 1270 644 Q1265.5 645 1264.5 649.5 Q1263.5 645 1259 644 Z" fill="#000" stroke="#000" stroke-width="2.2"/>
<circle cx="1264.5" cy="644" r="2.8" fill="#000"/>
<rect x="1196.5" y="655.5" width="59.8" height="25.5" fill="#e95e64" stroke="#000" stroke-width="4"/>
<rect x="1216.4" y="657" width="4.8" height="23" fill="#000"/>
<rect x="1230.7" y="657" width="4.7" height="23" fill="#000"/>
<circle cx="1201.5" cy="667" r="3" fill="#000"/>
<circle cx="1250" cy="667" r="3" fill="#000"/>
<path d="M1194 556 Q1216 590 1218 626" fill="none" stroke="#000" stroke-width="1.4"/>
<path d="M1257 556 Q1236 590 1234 626" fill="none" stroke="#000" stroke-width="1.4"/>
<line x1="1222" y1="612" x2="1230" y2="640" stroke="#000" stroke-width="1.6"/>
<line x1="1230" y1="612" x2="1222" y2="640" stroke="#000" stroke-width="1.6"/>
<line x1="1204" y1="680.3" x2="1271" y2="771" stroke="#000" stroke-width="2.4"/>
<line x1="1319" y1="673.6" x2="1400" y2="800" stroke="#000" stroke-width="2.2"/>
<path d="M1271 888 L1232 904.8 L1194.5 895.5 L1157.9 876.7 L1030 1092 L1133.5 1092 L1158.5 1045 L1271 996 Z" fill="#e95e64" stroke="#000" stroke-width="3" stroke-linejoin="round"/>
<path d="M1054.5 984.7 L1107.9 960.9 L1071.3 1022.4 Z" fill="#e95e64" stroke="#000" stroke-width="2.4" stroke-linejoin="round"/>
<path d="M1054.5 984.7 L1142.9 945.2 L1182.3 1033.6 L1094 1073 Z" fill="none" stroke="#000" stroke-width="2.2" stroke-linejoin="round"/>
<line x1="1232" y1="907.7" x2="1133.5" y2="1092" stroke="#000" stroke-width="2.4"/>
<line x1="1092" y1="962" x2="1176" y2="928" stroke="#000" stroke-width="2"/>
<line x1="1174.8" y1="983.8" x2="1300" y2="932" stroke="#000" stroke-width="2"/>
<line x1="1165" y1="1020" x2="1300" y2="962" stroke="#000" stroke-width="1.6"/>
<rect x="1271.5" y="747.8" width="202.2" height="267.6" fill="#e95e64" stroke="#000" stroke-width="4"/>
<rect x="1303.9" y="780.9" width="161.2" height="202.1" fill="#e95e64" stroke="#000" stroke-width="5"/>
<circle cx="1290.8" cy="759.7" r="8.5" fill="#000"/>
<circle cx="1290.8" cy="759.7" r="2.2" fill="#fff"/>
<circle cx="1461.6" cy="759.7" r="8.5" fill="#000"/>
<circle cx="1461.6" cy="759.7" r="2.2" fill="#fff"/>
<circle cx="1290.8" cy="1003.6" r="8.5" fill="#000"/>
<circle cx="1290.8" cy="1003.6" r="2.2" fill="#fff"/>
<circle cx="1453.3" cy="792" r="8.4" fill="#fff" stroke="#000" stroke-width="2.6"/>
<circle cx="1453.3" cy="792" r="5" fill="#000"/>
<circle cx="1315.3" cy="881.5" r="8.4" fill="#fff" stroke="#000" stroke-width="2.6"/>
<circle cx="1315.3" cy="881.5" r="5" fill="#000"/>
<circle cx="1315.3" cy="971" r="8.4" fill="#fff" stroke="#000" stroke-width="2.6"/>
<circle cx="1315.3" cy="971" r="5" fill="#000"/>
<circle cx="1453.3" cy="971" r="8.4" fill="#fff" stroke="#000" stroke-width="2.6"/>
<circle cx="1453.3" cy="971" r="5" fill="#000"/>
<rect x="1450.5" y="991.8" width="35.5" height="19.4" fill="#e95e64" stroke="#000" stroke-width="4.2"/>
<circle cx="1461.6" cy="1003.6" r="8" fill="#000"/>
<circle cx="1461.6" cy="1003.6" r="2.2" fill="#fff"/>
<line x1="1271" y1="771" x2="1345" y2="880" stroke="#000" stroke-width="2"/>
<line x1="1370" y1="746" x2="1483" y2="925" stroke="#000" stroke-width="2.2"/>
<line x1="1300" y1="887" x2="1340" y2="870" stroke="#000" stroke-width="1.8"/>
<line x1="1300" y1="970" x2="1350" y2="950" stroke="#000" stroke-width="1.8"/>
<path d="M1338.2 870.2 L1431.8 816.2 L1485.8 909.8 L1392.2 963.8 Z" fill="none" stroke="#000" stroke-width="2.2" stroke-linejoin="round"/>
<path d="M1353 835.5 L1452.5 825 L1463 924.5 L1363.5 935 Z" fill="none" stroke="#000" stroke-width="1.6" stroke-linejoin="round"/>
<g transform="rotate(-33 1402 880)">
<rect x="1366" y="828" width="72" height="108" fill="#e95e64" stroke="#000" stroke-width="2.4"/>
<rect x="1374" y="836" width="56" height="92" fill="#e95e64" stroke="#000" stroke-width="2"/>
<rect x="1362" y="818" width="40" height="14" fill="#e95e64" stroke="#000" stroke-width="3" rx="6"/>
<line x1="1366" y1="822" x2="1398" y2="822" stroke="#000" stroke-width="2"/>
<line x1="1369" y1="850" x2="1369" y2="930" stroke="#000" stroke-width="6.5" stroke-dasharray="12 4"/>
<line x1="1435" y1="836" x2="1435" y2="910" stroke="#000" stroke-width="6.5" stroke-dasharray="12 4"/>
<rect x="1384" y="900" width="40" height="22" fill="#e95e64" stroke="#000" stroke-width="2.4"/>
<rect x="1390" y="905" width="5" height="9" fill="#000"/>
<rect x="1400" y="905" width="5" height="9" fill="#000"/>
<rect x="1410" y="905" width="5" height="9" fill="#000"/>
<rect x="1418" y="905" width="5" height="9" fill="#000"/>
</g>
<circle cx="1404.8" cy="882.1" r="15" fill="#fff" stroke="#000" stroke-width="2.4"/>
<circle cx="1404.8" cy="882.1" r="9.6" fill="#fff" stroke="#000" stroke-width="5"/>
<line x1="1394" y1="882.1" x2="1416" y2="882.1" stroke="#000" stroke-width="2"/>
<line x1="1404.8" y1="871" x2="1404.8" y2="893" stroke="#000" stroke-width="2"/>
<line x1="1361" y1="935" x2="1361" y2="1010" stroke="#000" stroke-width="1.8" stroke-dasharray="20 8"/>
<line x1="1461.5" y1="1008" x2="1471" y2="1093" stroke="#000" stroke-width="1.8"/>
<line x1="1364" y1="1011" x2="1372" y2="1202" stroke="#000" stroke-width="1.8"/>
<line x1="1352" y1="955" x2="1366" y2="949" stroke="#000" stroke-width="2"/>
<line x1="1359" y1="945" x2="1361" y2="960" stroke="#000" stroke-width="2"/>
<circle cx="1194.5" cy="895.5" r="38" fill="#fff" stroke="#000" stroke-width="4.6"/>
<circle cx="1194.5" cy="895.5" r="31" fill="none" stroke="#000" stroke-width="2.4"/>
<circle cx="1194.5" cy="895.5" r="26" fill="none" stroke="#000" stroke-width="2.6" stroke-dasharray="12 6"/>
<rect x="1215.2" y="906.4" width="8" height="6.8" fill="#000"/>
<rect x="1190.5" y="920.6" width="8" height="6.8" fill="#000"/>
<rect x="1165.8" y="906.4" width="8" height="6.8" fill="#000"/>
<rect x="1165.8" y="877.9" width="8" height="6.8" fill="#000"/>
<rect x="1190.5" y="863.6" width="8" height="6.8" fill="#000"/>
<rect x="1215.2" y="877.9" width="8" height="6.8" fill="#000"/>
<circle cx="1194.5" cy="895.5" r="16.5" fill="#fff" stroke="#000" stroke-width="4.4"/>
<line x1="1191.5" y1="892.5" x2="1197.5" y2="898.5" stroke="#000" stroke-width="2"/>
<line x1="1191.5" y1="898.5" x2="1197.5" y2="892.5" stroke="#000" stroke-width="2"/>
<circle cx="1127.4" cy="1004.5" r="48.5" fill="#fff" stroke="#000" stroke-width="3.6"/>
<rect x="1165.3" y="1006.5" width="9.4" height="8" fill="#000" transform="rotate(98 1170 1010.5)"/>
<rect x="1159.8" y="1022.3" width="9.4" height="8" fill="#000" transform="rotate(120.5 1164.5 1026.3)"/>
<rect x="1148.6" y="1034.8" width="9.4" height="8" fill="#000" transform="rotate(143 1153.3 1038.8)"/>
<rect x="1133.5" y="1042.1" width="9.4" height="8" fill="#000" transform="rotate(165.5 1138.2 1046.1)"/>
<rect x="1116.7" y="1043.1" width="9.4" height="8" fill="#000" transform="rotate(188 1121.4 1047.1)"/>
<rect x="1100.9" y="1037.6" width="9.4" height="8" fill="#000" transform="rotate(210.5 1105.6 1041.6)"/>
<rect x="1088.4" y="1026.4" width="9.4" height="8" fill="#000" transform="rotate(233 1093.1 1030.4)"/>
<rect x="1081.1" y="1011.3" width="9.4" height="8" fill="#000" transform="rotate(255.5 1085.8 1015.3)"/>
<rect x="1080.1" y="994.5" width="9.4" height="8" fill="#000" transform="rotate(278 1084.8 998.5)"/>
<rect x="1085.6" y="978.7" width="9.4" height="8" fill="#000" transform="rotate(300.5 1090.3 982.7)"/>
<rect x="1096.8" y="966.2" width="9.4" height="8" fill="#000" transform="rotate(323 1101.5 970.2)"/>
<rect x="1111.9" y="958.9" width="9.4" height="8" fill="#000" transform="rotate(345.5 1116.6 962.9)"/>
<rect x="1128.7" y="957.9" width="9.4" height="8" fill="#000" transform="rotate(368 1133.4 961.9)"/>
<rect x="1144.5" y="963.4" width="9.4" height="8" fill="#000" transform="rotate(390.5 1149.2 967.4)"/>
<rect x="1157" y="974.6" width="9.4" height="8" fill="#000" transform="rotate(413 1161.7 978.6)"/>
<rect x="1164.3" y="989.7" width="9.4" height="8" fill="#000" transform="rotate(435.5 1169 993.7)"/>
<circle cx="1127.4" cy="1004.5" r="28" fill="#fff" stroke="#000" stroke-width="4.2"/>
<circle cx="1127.4" cy="1004.5" r="21" fill="none" stroke="#000" stroke-width="9" stroke-dasharray="14 12"/>
<circle cx="1127.4" cy="1004.5" r="10" fill="#fff" stroke="#000" stroke-width="2.6"/>
<path d="M1125.4 1016.5 A6 6 0 0 0 1137.4 1010.5" fill="none" stroke="#000" stroke-width="2.4"/>
<line x1="1105" y1="978" x2="1171" y2="1013" stroke="#000" stroke-width="2"/>
<line x1="1187" y1="1015.5" x2="1201" y2="1015.5" stroke="#000" stroke-width="4"/>
<!-- p_pink -->
<rect x="332.2" y="850" width="264.6" height="31.7" fill="#ffaec9" stroke="#000" stroke-width="4"/>
<rect x="315" y="904.6" width="30" height="16.1" fill="#ffaec9" stroke="#000" stroke-width="4"/>
<rect x="347" y="850" width="233.8" height="78" fill="#ffaec9" stroke="#000" stroke-width="5.5" rx="4"/>
<rect x="347" y="855" width="234" height="5.7" fill="#000"/>
<line x1="347" y1="884" x2="581" y2="884" stroke="#000" stroke-width="4.2"/>
<rect x="387.2" y="851" width="4.8" height="31" fill="#000"/>
<rect x="536.9" y="851" width="4.1" height="31" fill="#000"/>
<circle cx="359.8" cy="865.3" r="3.2" fill="#ffaec9" stroke="#000" stroke-width="2.6"/>
<circle cx="567.3" cy="865.3" r="3.2" fill="#ffaec9" stroke="#000" stroke-width="2.6"/>
<rect x="378.2" y="930" width="6.6" height="14" fill="#000"/>
<rect x="543" y="930" width="6.7" height="14" fill="#000"/>
<rect x="298" y="949.2" width="27" height="35.8" fill="#ffaec9" stroke="#000" stroke-width="3.4"/>
<rect x="289" y="986.4" width="45" height="6.6" fill="#ffaec9" stroke="#000" stroke-width="3"/>
<path d="M291.5 994.5 H330.5 V1030 Q330 1037 322 1038.5 H300 Q292 1037 291.5 1030 Z" fill="#ffaec9" stroke="#000" stroke-width="3.2"/>
<rect x="331" y="1003" width="7" height="32" fill="#000"/>
<rect x="308" y="1039" width="6" height="8" fill="#000"/>
<rect x="278.6" y="1048.4" width="52.4" height="7.6" fill="#ffaec9" stroke="#000" stroke-width="3"/>
<path d="M277 1062 Q277 1058 283 1058 H318 Q322 1058 322 1062 V1068 H340 V1074 H277 Z" fill="#000" stroke="#000" stroke-width="1"/>
<rect x="340" y="947" width="248.6" height="262" fill="#ffaec9" stroke="#000" stroke-width="4"/>
<rect x="336.3" y="942.6" width="255.3" height="9.2" fill="#000"/>
<rect x="342" y="1203.6" width="245" height="3.4" fill="#ffaec9"/>
<rect x="293" y="1092" width="9.2" height="93" fill="#ffaec9" stroke="#000" stroke-width="2.6"/>
<rect x="625.5" y="1092" width="5.5" height="93" fill="#ffaec9" stroke="#000" stroke-width="2.6"/>
<rect x="635" y="1092" width="5" height="93" fill="#ffaec9" stroke="#000" stroke-width="2.6"/>
<rect x="612" y="1072" width="40" height="4" fill="#000"/>
<rect x="592" y="1180" width="60" height="4" fill="#000"/>
<rect x="279.7" y="1076.4" width="366.8" height="16" fill="#ffaec9" stroke="#000" stroke-width="4"/>
<rect x="279.7" y="1185" width="366.8" height="16.6" fill="#ffaec9" stroke="#000" stroke-width="4"/>
<path d="M277 1206 H322 V1212 Q318 1220 300 1221 Q280 1220 277 1212 Z" fill="#000" stroke="#000" stroke-width="1"/>
<rect x="322" y="1204" width="20" height="3" fill="#000"/>
<rect x="344" y="1211" width="48.6" height="107.5" fill="#ffaec9" stroke="#000" stroke-width="4"/>
<line x1="388.5" y1="1211" x2="388.5" y2="1270" stroke="#000" stroke-width="2.6"/>
<rect x="430" y="1270.5" width="154" height="48" fill="#ffaec9" stroke="#000" stroke-width="4"/>
<rect x="401.5" y="1211" width="25.5" height="111.5" fill="#ffaec9" stroke="#000" stroke-width="4" rx="2"/>
<rect x="535.3" y="1211" width="48.7" height="107.5" fill="#ffaec9" stroke="#000" stroke-width="4"/>
<rect x="432" y="1272.4" width="101.4" height="44.2" fill="#ffaec9"/>
<line x1="428" y1="1270.5" x2="535" y2="1270.5" stroke="#000" stroke-width="4"/>
<rect x="332" y="1278.4" width="57" height="31.6" fill="#ffaec9" stroke="#000" stroke-width="3.4"/>
<rect x="539.7" y="1278.4" width="57" height="31.6" fill="#ffaec9" stroke="#000" stroke-width="3.4"/>
<line x1="346" y1="1270.5" x2="346" y2="1318" stroke="#000" stroke-width="3.4"/>
<line x1="582" y1="1270.5" x2="582" y2="1318" stroke="#000" stroke-width="3.4"/>
<circle cx="359.1" cy="1293.5" r="3.4" fill="#ffaec9" stroke="#000" stroke-width="2.8"/>
<circle cx="567.5" cy="1293.5" r="3.4" fill="#ffaec9" stroke="#000" stroke-width="2.8"/>
<!-- p_blue -->
<rect x="650" y="1053" width="50" height="51" fill="#08a4f4" stroke="#000" stroke-width="3.4"/>
<rect x="658" y="1037.5" width="35" height="16.5" fill="#08a4f4" stroke="#000" stroke-width="3.4"/>
<line x1="660" y1="1044" x2="692" y2="1044" stroke="#000" stroke-width="2.4"/>
<path d="M655 1056 Q655 1049 664 1049 H690 Q698 1050 698 1058 V1074 H655 Z" fill="#000" stroke="#000" stroke-width="1"/>
<rect x="664" y="1070.5" width="4" height="3.5" fill="#08a4f4"/>
<rect x="673" y="1070.5" width="4" height="3.5" fill="#08a4f4"/>
<rect x="682" y="1070.5" width="4" height="3.5" fill="#08a4f4"/>
<rect x="673.5" y="1098" width="7" height="83" fill="#08a4f4" stroke="#000" stroke-width="2.4"/>
<rect x="653" y="1099.5" width="44" height="5" fill="#08a4f4"/>
<rect x="652" y="941" width="382" height="36" fill="#000"/>
<rect x="655.6" y="944.5" width="13" height="29" fill="#08a4f4"/>
<rect x="672" y="947.6" width="25" height="22.8" fill="#08a4f4"/>
<circle cx="681.8" cy="959" r="5.6" fill="#000"/>
<circle cx="681.8" cy="959" r="2.6" fill="#fff"/>
<rect x="726" y="948.3" width="206" height="21.5" fill="#08a4f4"/>
<circle cx="733" cy="959" r="2.4" fill="#000"/>
<circle cx="749" cy="959" r="2.4" fill="#000"/>
<rect x="935" y="947.6" width="22" height="22.8" fill="#08a4f4"/>
<path d="M938 953 Q946 959 938 965 Z" fill="#000" stroke="#000" stroke-width="1"/>
<path d="M955 953 Q947 959 955 965 Z" fill="#000" stroke="#000" stroke-width="1"/>
<rect x="992" y="947.6" width="20" height="22.8" fill="#08a4f4"/>
<circle cx="1002.9" cy="959" r="5.6" fill="#000"/>
<circle cx="1002.9" cy="959" r="2.6" fill="#fff"/>
<rect x="1016.5" y="944.5" width="13.9" height="29" fill="#08a4f4"/>
<rect x="652" y="1298.5" width="382" height="35.9" fill="#000"/>
<rect x="655.6" y="1302" width="13" height="28.9" fill="#08a4f4"/>
<rect x="672" y="1305.1" width="25" height="22.7" fill="#08a4f4"/>
<circle cx="681.8" cy="1316.5" r="5.6" fill="#000"/>
<circle cx="681.8" cy="1316.5" r="2.6" fill="#fff"/>
<rect x="726" y="1305.8" width="206" height="21.4" fill="#08a4f4"/>
<circle cx="733" cy="1316.5" r="2.4" fill="#000"/>
<circle cx="749" cy="1316.5" r="2.4" fill="#000"/>
<rect x="935" y="1305.1" width="22" height="22.7" fill="#08a4f4"/>
<path d="M938 1310.5 Q946 1316.5 938 1322.5 Z" fill="#000" stroke="#000" stroke-width="1"/>
<path d="M955 1310.5 Q947 1316.5 955 1322.5 Z" fill="#000" stroke="#000" stroke-width="1"/>
<rect x="992" y="1305.1" width="20" height="22.7" fill="#08a4f4"/>
<circle cx="1002.9" cy="1316.5" r="5.6" fill="#000"/>
<circle cx="1002.9" cy="1316.5" r="2.6" fill="#fff"/>
<rect x="1016.5" y="1302" width="13.9" height="28.9" fill="#08a4f4"/>
<rect x="695.2" y="946" width="31" height="384" fill="#000"/>
<rect x="702" y="948.5" width="19.2" height="378.5" fill="#08a4f4"/>
<rect x="959" y="946" width="31" height="384" fill="#000"/>
<rect x="965.8" y="948.5" width="19.2" height="378.5" fill="#08a4f4"/>
<circle cx="712.2" cy="959" r="3.6" fill="#000"/>
<circle cx="712.2" cy="1316.5" r="3.6" fill="#000"/>
<line x1="701.2" y1="978" x2="723.2" y2="978" stroke="#000" stroke-width="2.6"/>
<line x1="701.2" y1="1298" x2="723.2" y2="1298" stroke="#000" stroke-width="2.6"/>
<circle cx="972.7" cy="959" r="3.6" fill="#000"/>
<circle cx="972.7" cy="1316.5" r="3.6" fill="#000"/>
<line x1="961.7" y1="978" x2="983.7" y2="978" stroke="#000" stroke-width="2.6"/>
<line x1="961.7" y1="1298" x2="983.7" y2="1298" stroke="#000" stroke-width="2.6"/>
<rect x="656.7" y="1069.5" width="371.3" height="28.3" fill="#000"/>
<rect x="660.5" y="1080.3" width="363.5" height="10.7" fill="#08a4f4"/>
<rect x="727" y="1074.7" width="231" height="1.8" fill="#08a4f4"/>
<rect x="656.7" y="1179" width="371.3" height="28.3" fill="#000"/>
<rect x="660.5" y="1185.3" width="363.5" height="10.7" fill="#08a4f4"/>
<rect x="727" y="1200" width="231" height="1.8" fill="#08a4f4"/>
<path d="M652.6 1205.6 h34 v6 q-3 9 -17 10 q-14 -1 -17 -10 Z" fill="#000" stroke="#000" stroke-width="1"/>
<path d="M997.5 1058 q0 -9 9 -9 h16 q9 0 9 9 v6 q-3 8 -17 9 q-14 -1 -17 -9 Z" fill="#000" stroke="#000" stroke-width="1"/>
<path d="M997.5 1208 h34 v6 q-3 9 -17 10 q-14 -1 -17 -10 Z" fill="#000" stroke="#000" stroke-width="1"/>
<path d="M699 1066 h26 v-4 h-26 Z" fill="#000" stroke="#000" stroke-width="1"/>
<circle cx="704" cy="1065" r="3.2" fill="#000"/>
<circle cx="712" cy="1065" r="3.2" fill="#000"/>
<circle cx="720" cy="1065" r="3.2" fill="#000"/>
<path d="M699 1210 h26 v4 h-26 Z" fill="#000" stroke="#000" stroke-width="1"/>
<circle cx="704" cy="1211" r="3.2" fill="#000"/>
<circle cx="712" cy="1211" r="3.2" fill="#000"/>
<circle cx="720" cy="1211" r="3.2" fill="#000"/>
<path d="M959 1066 h26 v-4 h-26 Z" fill="#000" stroke="#000" stroke-width="1"/>
<circle cx="964" cy="1065" r="3.2" fill="#000"/>
<circle cx="972" cy="1065" r="3.2" fill="#000"/>
<circle cx="980" cy="1065" r="3.2" fill="#000"/>
<path d="M959 1210 h26 v4 h-26 Z" fill="#000" stroke="#000" stroke-width="1"/>
<circle cx="964" cy="1211" r="3.2" fill="#000"/>
<circle cx="972" cy="1211" r="3.2" fill="#000"/>
<circle cx="980" cy="1211" r="3.2" fill="#000"/>
<circle cx="733" cy="1067" r="3.4" fill="#000"/>
<circle cx="741" cy="1067" r="3.4" fill="#000"/>
<circle cx="749" cy="1067" r="3.4" fill="#000"/>
<circle cx="733" cy="1209.5" r="3.4" fill="#000"/>
<circle cx="741" cy="1209.5" r="3.4" fill="#000"/>
<circle cx="749" cy="1209.5" r="3.4" fill="#000"/>
<rect x="1010" y="1068" width="3" height="5" fill="#08a4f4"/>
<rect x="1018" y="1068" width="3" height="5" fill="#08a4f4"/>
<rect x="1006" y="1203" width="3" height="4" fill="#08a4f4"/>
<rect x="1013" y="1203" width="3" height="5" fill="#08a4f4"/>
<rect x="1020" y="1203" width="3" height="4" fill="#08a4f4"/>
<rect x="944.8" y="1334" width="4.8" height="16" fill="#000"/>
<circle cx="947.2" cy="1350" r="2.4" fill="#000"/>
<circle cx="803" cy="946" r="3" fill="#000"/>
<rect x="801.2" y="946" width="3.6" height="9" fill="#000"/>
<circle cx="837" cy="943" r="2.4" fill="#000"/>
<circle cx="837" cy="1336" r="2.4" fill="#000"/>
<circle cx="710" cy="1336" r="2.4" fill="#000"/>
<!-- p_yellow -->
<rect x="985" y="1092" width="517" height="92.8" fill="#000"/>
<rect x="993" y="1099.2" width="502" height="11" fill="#fef208"/>
<rect x="1030" y="1120.6" width="465" height="8.4" fill="#fef208"/>
<rect x="1030" y="1146.5" width="465" height="9.1" fill="#fef208"/>
<rect x="993" y="1166" width="502" height="13" fill="#fef208"/>
<rect x="1154.5" y="1135" width="28.5" height="6" fill="#fef208"/>
<rect x="1154.5" y="1129" width="28.5" height="2.5" fill="#fef208"/>
<rect x="1218" y="1135" width="29" height="6" fill="#fef208"/>
<rect x="1218" y="1129" width="29" height="2.5" fill="#fef208"/>
<line x1="1030" y1="1162.5" x2="1495" y2="1162.5" stroke="#fff" stroke-width="1"/>
<rect x="1338" y="1120.6" width="157" height="58.4" fill="#fef208"/>
<rect x="1338" y="1135" width="157" height="2.2" fill="#000"/>
<rect x="1338" y="1140" width="157" height="2" fill="#000"/>
<rect x="1338" y="1156" width="157" height="6" fill="#000"/>
<rect x="1375" y="1123" width="10" height="12" fill="#000"/>
<!-- p_green -->
<path d="M1575.2 1041.8 A167 167 0 0 1 1848.8 1041.8" fill="none" stroke="#000" stroke-width="2.2"/>
<path d="M1580.9 1045.8 A160 160 0 0 1 1843.1 1045.8" fill="none" stroke="#000" stroke-width="2.2"/>
<path d="M1548.6 1102.9 A167 167 0 0 1 1559.4 1069.7" fill="none" stroke="#000" stroke-width="2.2"/>
<path d="M1555.5 1104.3 A160 160 0 0 1 1565.8 1072.5" fill="none" stroke="#000" stroke-width="2.2"/>
<path d="M1864.6 1069.7 A167 167 0 0 1 1875.4 1102.9" fill="none" stroke="#000" stroke-width="2.2"/>
<path d="M1858.2 1072.5 A160 160 0 0 1 1868.5 1104.3" fill="none" stroke="#000" stroke-width="2.2"/>
<path d="M1763.6 1296.4 A167 167 0 0 1 1728 1303.8" fill="none" stroke="#000" stroke-width="2.2"/>
<path d="M1761.4 1289.8 A160 160 0 0 1 1727.3 1296.9" fill="none" stroke="#000" stroke-width="2.2"/>
<path d="M1694.5 1303.7 A167 167 0 0 1 1660.4 1296.4" fill="none" stroke="#000" stroke-width="2.2"/>
<path d="M1695.3 1296.7 A160 160 0 0 1 1662.6 1289.8" fill="none" stroke="#000" stroke-width="2.2"/>
<rect x="1679.5" y="541.5" width="39.2" height="43.5" fill="#fff" stroke="#000" stroke-width="5"/>
<line x1="1683.5" y1="543" x2="1683.5" y2="584" stroke="#000" stroke-width="1.4"/>
<rect x="1677.5" y="585" width="46.3" height="57" fill="#11d144" stroke="#000" stroke-width="3"/>
<path d="M1690 584 L1694 579 H1707 L1711 584 Z" fill="#11d144" stroke="#000" stroke-width="2.4"/>
<circle cx="1700.5" cy="576" r="3" fill="#000"/>
<rect x="1698" y="574" width="5" height="6" fill="#000"/>
<line x1="1678" y1="614" x2="1724" y2="614" stroke="#000" stroke-width="2.6"/>
<line x1="1693.7" y1="590" x2="1693.7" y2="614" stroke="#000" stroke-width="2.6"/>
<line x1="1705" y1="590" x2="1705" y2="614" stroke="#000" stroke-width="2.6"/>
<line x1="1679" y1="590" x2="1723" y2="590" stroke="#000" stroke-width="2"/>
<rect x="1725.3" y="625" width="5.2" height="16" fill="#fff" stroke="#000" stroke-width="2.4"/>
<rect x="1907" y="727" width="25.5" height="105" fill="#11d144" stroke="#000" stroke-width="3"/>
<line x1="1908" y1="730.5" x2="1932" y2="730.5" stroke="#000" stroke-width="1.6"/>
<rect x="1907.7" y="716" width="7.8" height="16" fill="#11d144" stroke="#000" stroke-width="2.4"/>
<rect x="1509.5" y="717" width="7.5" height="15.5" fill="#11d144" stroke="#000" stroke-width="2.4"/>
<rect x="1688.5" y="806" width="20" height="23" fill="#11d144" stroke="#000" stroke-width="2.4"/>
<line x1="1702" y1="806" x2="1702" y2="829" stroke="#000" stroke-width="2"/>
<rect x="1738" y="806" width="10" height="23" fill="#11d144" stroke="#000" stroke-width="2.4"/>
<line x1="1743" y1="806" x2="1743" y2="829" stroke="#000" stroke-width="2"/>
<rect x="1677" y="826" width="48" height="4.5" fill="#11d144" stroke="#000" stroke-width="2"/>
<path d="M1557.2 643.5 H1868.4 C1895 650 1907.7 690 1907.7 725 C1907.7 760 1895 799 1868.4 805.8 H1557.2 C1530 799 1516.5 760 1516.5 725 C1516.5 690 1530 650 1557.2 643.5 Z" fill="#11d144" stroke="#000" stroke-width="3.2"/>
<line x1="1573.7" y1="644" x2="1573.7" y2="805.5" stroke="#000" stroke-width="3.2"/>
<line x1="1859.1" y1="644" x2="1859.1" y2="805.5" stroke="#000" stroke-width="3.2"/>
<rect x="1835.3" y="638" width="14.5" height="4.5" fill="#000"/>
<line x1="1591.3" y1="773.3" x2="1591.3" y2="831" stroke="#000" stroke-width="4.2"/>
<line x1="1646.1" y1="773.3" x2="1646.1" y2="831" stroke="#000" stroke-width="4.2"/>
<line x1="1778.5" y1="773.3" x2="1778.5" y2="831" stroke="#000" stroke-width="4.2"/>
<line x1="1833.3" y1="773.3" x2="1833.3" y2="831" stroke="#000" stroke-width="4.2"/>
<text transform="translate(1711.3 720) scale(0.78 1)" x="-14.4" y="0" font-size="64" style="font-family:'DejaVu Sans',sans-serif;stroke:none">&#x2104;</text>
<path d="M1745.2 733 A162.5 162.5 0 0 1 1842.6 584.5 L1907.7 733 H1745.2" fill="none" stroke="#000" stroke-width="3.1" stroke-linejoin="round"/>
<line x1="1744.8" y1="733" x2="1744.8" y2="790" stroke="#000" stroke-width="4.4" stroke-linecap="round"/>
<rect x="1489.3" y="867" width="31.7" height="545" fill="#11d144" stroke="#000" stroke-width="3.2"/>
<line x1="1495" y1="867" x2="1495" y2="1412" stroke="#000" stroke-width="2"/>
<line x1="1514" y1="867" x2="1514" y2="1412" stroke="#000" stroke-width="2"/>
<rect x="1903.3" y="867" width="32.7" height="545" fill="#11d144" stroke="#000" stroke-width="3.2"/>
<line x1="1909" y1="867" x2="1909" y2="1412" stroke="#000" stroke-width="2"/>
<line x1="1929" y1="867" x2="1929" y2="1412" stroke="#000" stroke-width="2"/>
<rect x="1606.6" y="903" width="33.9" height="469" fill="#11d144" stroke="#000" stroke-width="3.2"/>
<line x1="1613.4" y1="903" x2="1613.4" y2="1372" stroke="#000" stroke-width="2"/>
<line x1="1632.6" y1="903" x2="1632.6" y2="1372" stroke="#000" stroke-width="2"/>
<rect x="1786" y="903" width="33.8" height="469" fill="#11d144" stroke="#000" stroke-width="3.2"/>
<line x1="1792.7" y1="903" x2="1792.7" y2="1372" stroke="#000" stroke-width="2"/>
<line x1="1813" y1="903" x2="1813" y2="1372" stroke="#000" stroke-width="2"/>
<rect x="1878.5" y="1080" width="24.8" height="150" fill="#11d144" stroke="#000" stroke-width="2.6"/>
<rect x="1857" y="1228.3" width="46.3" height="180.7" fill="#11d144" stroke="#000" stroke-width="2.6"/>
<rect x="1852.5" y="1228" width="4.5" height="181" fill="#000"/>
<rect x="1859.5" y="1320" width="42.5" height="82" fill="#11d144" stroke="#000" stroke-width="3"/>
<circle cx="1870" cy="1328" r="2.4" fill="none" stroke="#000" stroke-width="1.4"/>
<circle cx="1892" cy="1328" r="2.4" fill="none" stroke="#000" stroke-width="1.4"/>
<circle cx="1870" cy="1350.5" r="2.4" fill="none" stroke="#000" stroke-width="1.4"/>
<circle cx="1892" cy="1350.5" r="2.4" fill="none" stroke="#000" stroke-width="1.4"/>
<rect x="1521" y="1048" width="85.6" height="34" fill="#11d144" stroke="#000" stroke-width="2.6"/>
<line x1="1521" y1="1055" x2="1606.6" y2="1055" stroke="#000" stroke-width="2"/>
<line x1="1521" y1="1075" x2="1606.6" y2="1075" stroke="#000" stroke-width="2"/>
<rect x="1819.8" y="1048" width="83.5" height="34" fill="#11d144" stroke="#000" stroke-width="2.6"/>
<line x1="1819.8" y1="1055" x2="1903.3" y2="1055" stroke="#000" stroke-width="2"/>
<line x1="1819.8" y1="1075" x2="1903.3" y2="1075" stroke="#000" stroke-width="2"/>
<rect x="1659" y="1050" width="106" height="30" fill="#11d144" stroke="#000" stroke-width="2.6"/>
<line x1="1659" y1="1055" x2="1765" y2="1055" stroke="#000" stroke-width="2"/>
<line x1="1659" y1="1075" x2="1765" y2="1075" stroke="#000" stroke-width="2"/>
<rect x="1640.5" y="1048" width="19.1" height="34" fill="#11d144" stroke="#000" stroke-width="2.6" rx="2"/>
<rect x="1764.5" y="1048" width="21.5" height="34" fill="#11d144" stroke="#000" stroke-width="2.6" rx="2"/>
<rect x="1521" y="1193.3" width="85.6" height="35" fill="#11d144" stroke="#000" stroke-width="2.6"/>
<line x1="1521" y1="1200.3" x2="1606.6" y2="1200.3" stroke="#000" stroke-width="2"/>
<line x1="1521" y1="1221.3" x2="1606.6" y2="1221.3" stroke="#000" stroke-width="2"/>
<rect x="1819.8" y="1193.3" width="83.5" height="35" fill="#11d144" stroke="#000" stroke-width="2.6"/>
<line x1="1819.8" y1="1200.3" x2="1903.3" y2="1200.3" stroke="#000" stroke-width="2"/>
<line x1="1819.8" y1="1221.3" x2="1903.3" y2="1221.3" stroke="#000" stroke-width="2"/>
<rect x="1659" y="1195.3" width="106" height="31" fill="#11d144" stroke="#000" stroke-width="2.6"/>
<line x1="1659" y1="1200.3" x2="1765" y2="1200.3" stroke="#000" stroke-width="2"/>
<line x1="1659" y1="1221.3" x2="1765" y2="1221.3" stroke="#000" stroke-width="2"/>
<rect x="1640.5" y="1193.3" width="19.1" height="35" fill="#11d144" stroke="#000" stroke-width="2.6" rx="2"/>
<rect x="1764.5" y="1193.3" width="21.5" height="35" fill="#11d144" stroke="#000" stroke-width="2.6" rx="2"/>
<circle cx="1653" cy="1055" r="2" fill="none" stroke="#000" stroke-width="1.4"/>
<circle cx="1771.5" cy="1055" r="2" fill="none" stroke="#000" stroke-width="1.4"/>
<circle cx="1653" cy="1221" r="2" fill="none" stroke="#000" stroke-width="1.4"/>
<circle cx="1771.5" cy="1221" r="2" fill="none" stroke="#000" stroke-width="1.4"/>
<rect x="1567" y="1232.8" width="7" height="144.2" fill="#000"/>
<rect x="1487" y="990.4" width="450" height="19.6" fill="#000"/>
<rect x="1487" y="996" width="450" height="9" fill="#11d144"/>
<rect x="1470" y="1269" width="467" height="19.6" fill="#000"/>
<rect x="1470" y="1274.6" width="467" height="9" fill="#11d144"/>
<rect x="1486.5" y="833.3" width="452.5" height="32.7" fill="#11d144" stroke="#000" stroke-width="4"/>
<line x1="1486.5" y1="838.5" x2="1939" y2="838.5" stroke="#000" stroke-width="2"/>
<line x1="1486.5" y1="858.6" x2="1939" y2="858.6" stroke="#000" stroke-width="2"/>
<rect x="1490.5" y="867.7" width="444.5" height="34.8" fill="#11d144" stroke="#000" stroke-width="3.6"/>
<line x1="1490.5" y1="872.5" x2="1935" y2="872.5" stroke="#000" stroke-width="2"/>
<line x1="1490.5" y1="877" x2="1935" y2="877" stroke="#000" stroke-width="2"/>
<line x1="1490.5" y1="896.5" x2="1935" y2="896.5" stroke="#000" stroke-width="2"/>
<rect x="1487" y="869" width="34" height="34" fill="none" stroke="#000" stroke-width="2" rx="3"/>
<rect x="1905" y="869" width="36" height="36" fill="none" stroke="#000" stroke-width="2" rx="4"/>
<path d="M1521 903 L1521 914 L1534 914 L1545 903 Z" fill="#11d144" stroke="#000" stroke-width="2" stroke-linejoin="round"/>
<line x1="1534" y1="914" x2="1568" y2="881" stroke="#000" stroke-width="2"/>
<rect x="1567" y="869" width="7" height="179" fill="#000"/>
<rect x="1852.5" y="869" width="5.5" height="179" fill="#000"/>
<circle cx="1544" cy="890.2" r="6" fill="#fff" stroke="#000" stroke-width="1.6"/>
<rect x="1521" y="1372.5" width="331.5" height="36.5" fill="#11d144" stroke="#000" stroke-width="3.4"/>
<line x1="1521" y1="1378" x2="1852.5" y2="1378" stroke="#000" stroke-width="2"/>
<line x1="1521" y1="1399.7" x2="1852.5" y2="1399.7" stroke="#000" stroke-width="2"/>
<line x1="1521" y1="1405" x2="1852.5" y2="1405" stroke="#000" stroke-width="2"/>
<rect x="1489.3" y="1410" width="446.7" height="32.6" fill="#11d144" stroke="#000" stroke-width="4"/>
<line x1="1489.3" y1="1416.6" x2="1936" y2="1416.6" stroke="#000" stroke-width="2"/>
<line x1="1489.3" y1="1438" x2="1936" y2="1438" stroke="#000" stroke-width="2"/>
<path d="M1521 1361.4 L1534.4 1361.4 L1569.4 1390.7 L1569.4 1398.6 L1521 1398.6 Z" fill="#11d144" stroke="#000" stroke-width="2" stroke-linejoin="round"/>
<circle cx="1543.5" cy="1386.2" r="6" fill="#fff" stroke="#000" stroke-width="1.6"/>
<rect x="1487" y="1368" width="34" height="42" fill="none" stroke="#000" stroke-width="2" rx="3"/>
<rect x="1905" y="1368" width="36" height="44" fill="none" stroke="#000" stroke-width="2" rx="4"/>
<circle cx="1890.4" cy="1138" r="6" fill="#fff" stroke="#000" stroke-width="1.6"/>
<circle cx="1620" cy="1026" r="2.4" fill="none" stroke="#000" stroke-width="1.4"/>
<circle cx="1620" cy="1096" r="2.4" fill="none" stroke="#000" stroke-width="1.4"/>
<circle cx="1620" cy="1167" r="2.4" fill="none" stroke="#000" stroke-width="1.4"/>
<circle cx="1805" cy="1026" r="2.4" fill="none" stroke="#000" stroke-width="1.4"/>
<circle cx="1805" cy="1096" r="2.4" fill="none" stroke="#000" stroke-width="1.4"/>
<circle cx="1805" cy="1167" r="2.4" fill="none" stroke="#000" stroke-width="1.4"/>
<circle cx="1519" cy="1432" r="1.6" fill="#000"/>
<circle cx="1648" cy="1432" r="1.6" fill="#000"/>
<circle cx="1776" cy="1432" r="1.6" fill="#000"/>
<circle cx="1904" cy="1432" r="1.6" fill="#000"/>
<circle cx="1577" cy="846.4" r="1.4" fill="#000"/>
<circle cx="1667" cy="846.4" r="1.4" fill="#000"/>
<circle cx="1765" cy="846.4" r="1.4" fill="#000"/>
<circle cx="1791" cy="887.5" r="1.4" fill="#000"/>
<circle cx="1789" cy="1388.5" r="1.6" fill="#000"/>
<!-- p_handler -->
<rect x="1952.5" y="813.4" width="464" height="16.2" fill="#fff" stroke="#000" stroke-width="2.6"/>
<rect x="1952.5" y="1444.6" width="464" height="14" fill="#fff" stroke="#000" stroke-width="2.6"/>
<line x1="1966" y1="814" x2="1966" y2="829" stroke="#000" stroke-width="2"/>
<line x1="2038.4" y1="814" x2="2038.4" y2="829" stroke="#000" stroke-width="2"/>
<line x1="2043" y1="814" x2="2043" y2="829" stroke="#000" stroke-width="2"/>
<line x1="2050.8" y1="814" x2="2050.8" y2="829" stroke="#000" stroke-width="2"/>
<line x1="2056.5" y1="814" x2="2056.5" y2="829" stroke="#000" stroke-width="2"/>
<line x1="2061" y1="814" x2="2061" y2="829" stroke="#000" stroke-width="2"/>
<line x1="2075.7" y1="814" x2="2075.7" y2="829" stroke="#000" stroke-width="2"/>
<line x1="2258.4" y1="814" x2="2258.4" y2="829" stroke="#000" stroke-width="2"/>
<line x1="2268.5" y1="814" x2="2268.5" y2="829" stroke="#000" stroke-width="2"/>
<line x1="2273" y1="814" x2="2273" y2="829" stroke="#000" stroke-width="2"/>
<line x1="2278.7" y1="814" x2="2278.7" y2="829" stroke="#000" stroke-width="2"/>
<line x1="2292.2" y1="814" x2="2292.2" y2="829" stroke="#000" stroke-width="2"/>
<line x1="2380" y1="814" x2="2380" y2="829" stroke="#000" stroke-width="2"/>
<line x1="1966" y1="1445" x2="1966" y2="1458" stroke="#000" stroke-width="2"/>
<line x1="2020" y1="1445" x2="2020" y2="1458" stroke="#000" stroke-width="2"/>
<line x1="2030" y1="1445" x2="2030" y2="1458" stroke="#000" stroke-width="2"/>
<line x1="2036" y1="1445" x2="2036" y2="1458" stroke="#000" stroke-width="2"/>
<line x1="2042" y1="1445" x2="2042" y2="1458" stroke="#000" stroke-width="2"/>
<line x1="2048" y1="1445" x2="2048" y2="1458" stroke="#000" stroke-width="2"/>
<line x1="2060" y1="1445" x2="2060" y2="1458" stroke="#000" stroke-width="2"/>
<line x1="2270" y1="1445" x2="2270" y2="1458" stroke="#000" stroke-width="2"/>
<line x1="2282" y1="1445" x2="2282" y2="1458" stroke="#000" stroke-width="2"/>
<line x1="2288" y1="1445" x2="2288" y2="1458" stroke="#000" stroke-width="2"/>
<line x1="2294" y1="1445" x2="2294" y2="1458" stroke="#000" stroke-width="2"/>
<line x1="2300" y1="1445" x2="2300" y2="1458" stroke="#000" stroke-width="2"/>
<line x1="2312" y1="1445" x2="2312" y2="1458" stroke="#000" stroke-width="2"/>
<line x1="2380" y1="1445" x2="2380" y2="1458" stroke="#000" stroke-width="2"/>
<circle cx="2393.3" cy="821.9" r="3.6" fill="#000"/>
<circle cx="2393.3" cy="1452" r="3.6" fill="#000"/>
<circle cx="2408.4" cy="821.9" r="3.6" fill="#000"/>
<circle cx="2408.4" cy="1452" r="3.6" fill="#000"/>
<line x1="2401.2" y1="830" x2="2401.2" y2="1444" stroke="#000" stroke-width="3.6"/>
<line x1="2416" y1="830" x2="2416" y2="1444" stroke="#000" stroke-width="3.8"/>
<line x1="2401" y1="888" x2="2415" y2="888" stroke="#000" stroke-width="3.4"/>
<line x1="2401" y1="902" x2="2415" y2="902" stroke="#000" stroke-width="3.4"/>
<line x1="2401" y1="1370" x2="2415" y2="1370" stroke="#000" stroke-width="3.4"/>
<line x1="2401" y1="1384" x2="2415" y2="1384" stroke="#000" stroke-width="3.4"/>
<rect x="2051" y="830" width="6.6" height="56" fill="#000"/>
<rect x="2273" y="830" width="5.7" height="56" fill="#000"/>
<path d="M2047 830 h14 l-3 7 h-8 Z" fill="#000" stroke="#000" stroke-width="1"/>
<path d="M2269 830 h14 l-3 7 h-8 Z" fill="#000" stroke="#000" stroke-width="1"/>
<rect x="2036" y="1382" width="5.8" height="62" fill="#000"/>
<rect x="2287.7" y="1382" width="6.8" height="62" fill="#000"/>
<path d="M1950.4 777.5 H1980 A8 8 0 0 1 1988 785.5 V807.1 A8 8 0 0 1 1980 815.1 H1950.4  Z " fill="#000" stroke="#000" stroke-width="0.5"/>
<rect x="1954.7" y="781.8" width="10.4" height="10.4" fill="#fff"/>
<circle cx="1959.9" cy="787" r="3.3" fill="#000"/>
<rect x="1973.2" y="781.8" width="10.4" height="10.4" fill="#fff"/>
<circle cx="1978.4" cy="787" r="3.3" fill="#000"/>
<rect x="1954.7" y="800.3" width="10.4" height="10.4" fill="#fff"/>
<circle cx="1959.9" cy="805.5" r="3.3" fill="#000"/>
<rect x="1973.2" y="800.3" width="10.4" height="10.4" fill="#fff"/>
<circle cx="1978.4" cy="805.5" r="3.3" fill="#000"/>
<defs><pattern id="ch" width="9" height="9" patternUnits="userSpaceOnUse"><rect width="9" height="9" fill="#000"/><rect x="3.2" y="3.4" width="2" height="1.6" fill="#fff"/></pattern><pattern id="ch2" width="18" height="12" patternUnits="userSpaceOnUse"><rect width="18" height="12" fill="#000"/><circle cx="4" cy="6" r="0.9" fill="#fff"/><circle cx="13" cy="3" r="0.8" fill="#fff"/><circle cx="11" cy="9.5" r="0.8" fill="#fff"/></pattern></defs>
<rect x="2000" y="1011" width="16.4" height="258" fill="#000"/>
<rect x="2026" y="1011" width="16.9" height="258" fill="#000"/>
<rect x="2063" y="1011" width="11.3" height="258" fill="#000"/>
<rect x="2263" y="1011" width="10.4" height="258" fill="#000"/>
<rect x="2279.5" y="1011" width="28.5" height="258" fill="#000"/>
<rect x="2317" y="1011" width="14" height="258" fill="#000"/>
<rect x="2007" y="1016" width="2" height="250" fill="#f18f4e"/>
<rect x="2030.5" y="1016" width="2" height="250" fill="#f18f4e"/>
<rect x="2037" y="1016" width="2.5" height="250" fill="#f18f4e"/>
<rect x="2066.5" y="1016" width="4.5" height="250" fill="#f18f4e"/>
<rect x="2266.5" y="1016" width="3.5" height="250" fill="#f18f4e"/>
<rect x="2282.5" y="1016" width="2.5" height="250" fill="#f18f4e"/>
<rect x="2299" y="1016" width="2.5" height="250" fill="#f18f4e"/>
<rect x="1988.8" y="919.6" width="16.9" height="426.4" fill="#000"/>
<rect x="1993.3" y="921" width="6.1" height="425" fill="#f18f4e"/>
<rect x="2221" y="1013" width="19.3" height="321" fill="#f18f4e" stroke="#000" stroke-width="2.6"/>
<rect x="2317" y="967" width="14" height="333" fill="#000"/>
<rect x="2329.4" y="967" width="36.1" height="331" fill="#f18f4e" stroke="#000" stroke-width="3.2"/>
<rect x="2078" y="1079.7" width="137.5" height="18.3" rx="5" fill="url(#ch2)"/>
<rect x="1953.8" y="1093" width="370" height="23" rx="5" fill="url(#ch2)"/>
<rect x="1953.8" y="1112" width="124.2" height="22" rx="5" fill="url(#ch2)"/>
<rect x="2250" y="1112" width="73.8" height="22" rx="5" fill="url(#ch2)"/>
<rect x="1953.8" y="1144.8" width="124.2" height="21.2" rx="5" fill="url(#ch2)"/>
<rect x="2250" y="1144.8" width="73.8" height="21.2" rx="5" fill="url(#ch2)"/>
<rect x="1953.8" y="1158" width="370" height="27.4" rx="5" fill="url(#ch2)"/>
<rect x="2078" y="1180" width="137.5" height="19" rx="5" fill="url(#ch2)"/>
<rect x="2056" y="1068" width="26" height="6" fill="#000"/>
<rect x="2254" y="1068" width="26" height="6" fill="#000"/>
<rect x="2056" y="1205" width="26" height="6" fill="#000"/>
<rect x="2254" y="1205" width="26" height="6" fill="#000"/>
<rect x="2254" y="1041" width="26" height="6" fill="#000"/>
<rect x="2024" y="1016" width="26" height="26" fill="#f18f4e" stroke="#000" stroke-width="3"/>
<rect x="2024" y="1238" width="26" height="28" fill="#f18f4e" stroke="#000" stroke-width="3"/>
<rect x="2134" y="1122" width="42" height="34" fill="#fff" stroke="#000" stroke-width="2.4"/>
<circle cx="2155" cy="1139" r="17" fill="#fff" stroke="#000" stroke-width="2"/>
<rect x="2221" y="1113" width="30" height="5" fill="#f18f4e" stroke="#000" stroke-width="1.5"/>
<rect x="2275" y="1113" width="28" height="5" fill="#f18f4e" stroke="#000" stroke-width="1.5"/>
<rect x="2221" y="1160" width="30" height="5" fill="#f18f4e" stroke="#000" stroke-width="1.5"/>
<rect x="2275" y="1160" width="28" height="5" fill="#f18f4e" stroke="#000" stroke-width="1.5"/>
<rect x="2285" y="1130" width="15" height="5" fill="#f18f4e" stroke="#000" stroke-width="1.5"/>
<rect x="2285" y="1143" width="15" height="5" fill="#f18f4e" stroke="#000" stroke-width="1.5"/>
<rect x="2006.8" y="976" width="310.2" height="15" fill="#000"/>
<rect x="2020.4" y="983" width="4.4" height="4" fill="#fff"/>
<rect x="2029.5" y="983" width="4.4" height="4" fill="#fff"/>
<rect x="2038.5" y="983" width="4.4" height="4" fill="#fff"/>
<rect x="2047.5" y="983" width="4.4" height="4" fill="#fff"/>
<rect x="2056.6" y="983" width="4.4" height="4" fill="#fff"/>
<rect x="2065.7" y="983" width="4.4" height="4" fill="#fff"/>
<rect x="2074.7" y="983" width="4.4" height="4" fill="#fff"/>
<rect x="2083.8" y="983" width="4.4" height="4" fill="#fff"/>
<rect x="2092.8" y="983" width="4.4" height="4" fill="#fff"/>
<rect x="2101.9" y="983" width="4.4" height="4" fill="#fff"/>
<rect x="2110.9" y="983" width="4.4" height="4" fill="#fff"/>
<rect x="2120" y="983" width="4.4" height="4" fill="#fff"/>
<rect x="2129" y="983" width="4.4" height="4" fill="#fff"/>
<rect x="2138.1" y="983" width="4.4" height="4" fill="#fff"/>
<rect x="2174.3" y="983" width="4.4" height="4" fill="#fff"/>
<rect x="2183.3" y="983" width="4.4" height="4" fill="#fff"/>
<rect x="2192.4" y="983" width="4.4" height="4" fill="#fff"/>
<rect x="2201.4" y="983" width="4.4" height="4" fill="#fff"/>
<rect x="2210.5" y="983" width="4.4" height="4" fill="#fff"/>
<rect x="2219.5" y="983" width="4.4" height="4" fill="#fff"/>
<rect x="2228.6" y="983" width="4.4" height="4" fill="#fff"/>
<rect x="2237.6" y="983" width="4.4" height="4" fill="#fff"/>
<rect x="2246.7" y="983" width="4.4" height="4" fill="#fff"/>
<rect x="2006.8" y="1289" width="310.2" height="13" fill="#000"/>
<rect x="2020.4" y="1294.8" width="4.4" height="4.2" fill="#fff"/>
<rect x="2029.5" y="1294.8" width="4.4" height="4.2" fill="#fff"/>
<rect x="2038.5" y="1294.8" width="4.4" height="4.2" fill="#fff"/>
<rect x="2047.5" y="1294.8" width="4.4" height="4.2" fill="#fff"/>
<rect x="2056.6" y="1294.8" width="4.4" height="4.2" fill="#fff"/>
<rect x="2065.7" y="1294.8" width="4.4" height="4.2" fill="#fff"/>
<rect x="2074.7" y="1294.8" width="4.4" height="4.2" fill="#fff"/>
<rect x="2083.8" y="1294.8" width="4.4" height="4.2" fill="#fff"/>
<rect x="2092.8" y="1294.8" width="4.4" height="4.2" fill="#fff"/>
<rect x="2101.9" y="1294.8" width="4.4" height="4.2" fill="#fff"/>
<rect x="2110.9" y="1294.8" width="4.4" height="4.2" fill="#fff"/>
<rect x="2120" y="1294.8" width="4.4" height="4.2" fill="#fff"/>
<rect x="2129" y="1294.8" width="4.4" height="4.2" fill="#fff"/>
<rect x="2138.1" y="1294.8" width="4.4" height="4.2" fill="#fff"/>
<rect x="2174.3" y="1294.8" width="4.4" height="4.2" fill="#fff"/>
<rect x="2183.3" y="1294.8" width="4.4" height="4.2" fill="#fff"/>
<rect x="2192.4" y="1294.8" width="4.4" height="4.2" fill="#fff"/>
<rect x="2201.4" y="1294.8" width="4.4" height="4.2" fill="#fff"/>
<rect x="2210.5" y="1294.8" width="4.4" height="4.2" fill="#fff"/>
<rect x="2219.5" y="1294.8" width="4.4" height="4.2" fill="#fff"/>
<rect x="2228.6" y="1294.8" width="4.4" height="4.2" fill="#fff"/>
<rect x="2237.6" y="1294.8" width="4.4" height="4.2" fill="#fff"/>
<rect x="2246.7" y="1294.8" width="4.4" height="4.2" fill="#fff"/>
<rect x="2017" y="925" width="45" height="27" fill="#000"/>
<rect x="2017" y="948" width="41" height="10" fill="#000"/>
<rect x="2031" y="952" width="15" height="26" fill="#f18f4e" stroke="#000" stroke-width="3"/>
<rect x="2006.8" y="968" width="113.2" height="10" fill="#000"/>
<rect x="2190" y="962" width="140" height="16" fill="#000"/>
<rect x="1999" y="886.8" width="327" height="36.2" fill="#000"/>
<rect x="2009" y="894.7" width="39.6" height="20.3" fill="#f18f4e"/>
<rect x="2058.7" y="894.7" width="38.3" height="20.3" fill="#f18f4e"/>
<rect x="2117.4" y="894.7" width="154.6" height="20.3" fill="#f18f4e"/>
<rect x="2279.8" y="892" width="39.5" height="5" fill="#f18f4e"/>
<rect x="2279.8" y="901" width="39.5" height="12" fill="#f18f4e"/>
<rect x="1971" y="876" width="32" height="54.5" fill="#f18f4e" stroke="#000" stroke-width="3"/>
<rect x="1977" y="886" width="20" height="36" fill="#000"/>
<rect x="1980" y="889" width="14" height="30" fill="#f18f4e"/>
<circle cx="1987" cy="904" r="7" fill="#000" stroke="#000" stroke-width="1"/>
<circle cx="1987" cy="882" r="3" fill="#000"/>
<circle cx="1987" cy="926" r="3" fill="#000"/>
<circle cx="2038" cy="872" r="10.5" fill="#fff" stroke="#000" stroke-width="7.4"/>
<circle cx="2038" cy="872" r="10.5" fill="none" stroke="#f18f4e" stroke-width="3.6"/>
<path d="M2040 862 q-6 10 0 20" fill="none" stroke="#000" stroke-width="2.4"/>
<rect x="2044" y="862" width="18" height="22" fill="none" stroke="#000" stroke-width="2"/>
<g transform="rotate(-8 2190 865)">
<rect x="2180" y="846" width="92" height="12" fill="#000"/>
<rect x="2140" y="862" width="100" height="11" fill="#f18f4e" stroke="#000" stroke-width="3"/>
<rect x="2148" y="858" width="12" height="19" fill="#f18f4e" stroke="#000" stroke-width="3"/>
<rect x="2236" y="856" width="12" height="24" fill="#f18f4e" stroke="#000" stroke-width="3"/>
<rect x="2120" y="866" width="22" height="4" fill="#f18f4e" stroke="#000" stroke-width="2.4"/>
</g>
<path d="M2186 884 L2240 874 L2262 868 L2262 886 Z" fill="#f18f4e" stroke="#000" stroke-width="3" stroke-linejoin="round"/>
<rect x="2200" y="882" width="130" height="7" fill="#000"/>
<rect x="2100.5" y="876" width="12.5" height="91" fill="#f18f4e" stroke="#000" stroke-width="3"/>
<path d="M2080 925 L2100 925 L2100 967 L2086 950 Z" fill="#f18f4e" stroke="#000" stroke-width="3" stroke-linejoin="round"/>
<circle cx="2106.5" cy="881" r="3.2" fill="#000"/>
<circle cx="2106.5" cy="928" r="3.2" fill="#000"/>
<circle cx="2106.5" cy="964" r="3.2" fill="#000"/>
<circle cx="2105.4" cy="947.8" r="21" fill="#fff" stroke="#000" stroke-width="2.6"/>
<circle cx="2154.6" cy="947.8" r="21" fill="#fff" stroke="#000" stroke-width="2.6"/>
<rect x="2100.5" y="925" width="12.5" height="42" fill="#f18f4e" stroke="#000" stroke-width="3"/>
<circle cx="2106.5" cy="928" r="3.2" fill="#000"/>
<circle cx="2106.5" cy="964" r="3.2" fill="#000"/>
<circle cx="2148" cy="929" r="2.6" fill="#000"/>
<circle cx="2172" cy="948" r="2.6" fill="#000"/>
<rect x="2316" y="860.5" width="54" height="9.5" fill="#000"/>
<rect x="2318" y="870" width="32" height="7" fill="#f18f4e" stroke="#000" stroke-width="2"/>
<rect x="2340" y="866" width="28" height="24" fill="#000"/>
<circle cx="2346" cy="872" r="2" fill="#f18f4e" stroke="#000" stroke-width="1.2"/>
<circle cx="2356" cy="872" r="2" fill="#f18f4e" stroke="#000" stroke-width="1.2"/>
<circle cx="2351" cy="880" r="2" fill="#f18f4e" stroke="#000" stroke-width="1.2"/>
<circle cx="2361" cy="880" r="2" fill="#f18f4e" stroke="#000" stroke-width="1.2"/>
<rect x="2331" y="891" width="27" height="41" fill="#f18f4e" stroke="#000" stroke-width="3"/>
<rect x="2336" y="896" width="16" height="30" fill="#000"/>
<rect x="2339" y="899" width="10" height="24" fill="#f18f4e"/>
<circle cx="2344" cy="903" r="6" fill="#000" stroke="#000" stroke-width="1"/>
<line x1="2357.6" y1="903.8" x2="2393.7" y2="903.8" stroke="#000" stroke-width="2.4"/>
<rect x="2380" y="897" width="7.5" height="20.5" fill="#000" stroke="#000" stroke-width="1" rx="3"/>
<circle cx="2376" cy="885" r="4" fill="#000"/>
<circle cx="2362" cy="925" r="3" fill="#000"/>
<path d="M2200 958 L2210 940 L2290 940 L2290 958 Z" fill="#f18f4e" stroke="#000" stroke-width="3" stroke-linejoin="round"/>
<rect x="2210" y="936" width="110" height="5" fill="#000"/>
<rect x="2280" y="926" width="38" height="10" fill="#f18f4e" stroke="#000" stroke-width="2"/>
<circle cx="2306" cy="944" r="13" fill="#000" stroke="#000" stroke-width="1"/>
<rect x="2286" y="945" width="26" height="17" fill="#f18f4e" stroke="#000" stroke-width="3"/>
<rect x="1944" y="938.6" width="122.6" height="7" fill="#f18f4e" stroke="#000" stroke-width="2.4"/>
<circle cx="1951.6" cy="947.8" r="11" fill="#fff" stroke="#000" stroke-width="2.4"/>
<circle cx="1951.6" cy="947.8" r="4.6" fill="#fff" stroke="#000" stroke-width="3.4"/>
<circle cx="1951.6" cy="932" r="4" fill="#000"/>
<rect x="1938" y="990.6" width="379" height="20.4" fill="#000"/>
<rect x="1938" y="995.2" width="207.6" height="11.2" fill="#f18f4e"/>
<rect x="2164.8" y="995.2" width="124" height="11.2" fill="#f18f4e"/>
<rect x="2293.3" y="995.2" width="22.7" height="11.2" fill="#f18f4e"/>
<rect x="1938" y="1268.9" width="379" height="20.4" fill="#000"/>
<rect x="1938" y="1273.5" width="207.6" height="11.2" fill="#f18f4e"/>
<rect x="2164.8" y="1273.5" width="124" height="11.2" fill="#f18f4e"/>
<rect x="2293.3" y="1273.5" width="22.7" height="11.2" fill="#f18f4e"/>
<circle cx="1941" cy="988" r="4.6" fill="#000"/>
<circle cx="1941" cy="1016" r="4.6" fill="#000"/>
<circle cx="1941" cy="1264" r="4.6" fill="#000"/>
<circle cx="1941" cy="1290" r="4.6" fill="#000"/>
<circle cx="2020" cy="1014" r="4.4" fill="#000"/>
<circle cx="2020" cy="1266" r="4.4" fill="#000"/>
<circle cx="2068" cy="1014" r="4.4" fill="#000"/>
<circle cx="2068" cy="1266" r="4.4" fill="#000"/>
<circle cx="2100" cy="1014" r="4.4" fill="#000"/>
<circle cx="2100" cy="1266" r="4.4" fill="#000"/>
<circle cx="2230" cy="1014" r="4.4" fill="#000"/>
<circle cx="2230" cy="1266" r="4.4" fill="#000"/>
<circle cx="2265" cy="1014" r="4.4" fill="#000"/>
<circle cx="2265" cy="1266" r="4.4" fill="#000"/>
<circle cx="2300" cy="1014" r="4.4" fill="#000"/>
<circle cx="2300" cy="1266" r="4.4" fill="#000"/>
<rect x="2146.7" y="939.9" width="16.9" height="406.1" fill="#000"/>
<rect x="2150.5" y="946" width="9.7" height="394" fill="#f18f4e"/>
<circle cx="2155" cy="946.5" r="2.6" fill="#fff" stroke="#000" stroke-width="1"/>
<path d="M2074 936 L2081.5 934.5 L2150 1322 L2142.5 1323.5 Z" fill="#f18f4e" stroke="#000" stroke-width="2.2" stroke-linejoin="round"/>
<rect x="1944" y="1334" width="348" height="8.4" fill="#f18f4e" stroke="#000" stroke-width="2.4"/>
<rect x="2000" y="1340" width="60" height="3" fill="#000"/>
<rect x="2178" y="1340" width="22" height="3" fill="#000"/>
<rect x="2010" y="1300" width="307" height="9" fill="#000"/>
<circle cx="1951.6" cy="1333.2" r="11" fill="#fff" stroke="#000" stroke-width="2.4"/>
<circle cx="1951.6" cy="1333.2" r="4.6" fill="#fff" stroke="#000" stroke-width="3.4"/>
<circle cx="1951.6" cy="1349" r="4" fill="#000"/>
<rect x="2005.7" y="1342" width="318.1" height="40.8" fill="#000"/>
<rect x="2009" y="1355.7" width="23.8" height="19.3" fill="#f18f4e"/>
<rect x="2041.8" y="1362.5" width="245.9" height="4.5" fill="#f18f4e"/>
<rect x="2295.6" y="1355.7" width="21.4" height="19.3" fill="#f18f4e"/>
<circle cx="2105.4" cy="1333.2" r="21" fill="#fff" stroke="#000" stroke-width="2.6"/>
<circle cx="2105.4" cy="1333.2" r="7" fill="#fff" stroke="#000" stroke-width="3.4"/>
<circle cx="2105.4" cy="1333.2" r="2" fill="#000"/>
<circle cx="2089" cy="1331" r="2.6" fill="#000"/>
<circle cx="2122" cy="1333" r="2.6" fill="#000"/>
<circle cx="2096" cy="1347" r="3" fill="#000"/>
<circle cx="2154.6" cy="1333.2" r="21" fill="#fff" stroke="#000" stroke-width="2.6"/>
<path d="M2146 1326 L2164 1326 L2160 1352 L2148 1352 Z" fill="#f18f4e" stroke="#000" stroke-width="3" stroke-linejoin="round"/>
<circle cx="2155" cy="1333" r="2.6" fill="#fff" stroke="#000" stroke-width="1.4"/>
<circle cx="2151" cy="1350" r="2.4" fill="#fff" stroke="#000" stroke-width="1.4"/>
<line x1="2168" y1="1318" x2="2160" y2="1353" stroke="#000" stroke-width="2"/>
<rect x="1971" y="1347" width="32" height="47" fill="#f18f4e" stroke="#000" stroke-width="3"/>
<rect x="1977" y="1352" width="20" height="26" fill="#000"/>
<circle cx="1987" cy="1364" r="7" fill="#000" stroke="#000" stroke-width="1"/>
<circle cx="1987" cy="1364" r="3" fill="#f18f4e" stroke="#000" stroke-width="0"/>
<circle cx="1987" cy="1388" r="3" fill="#000"/>
<rect x="2249.5" y="1376" width="23" height="28" fill="#f18f4e" stroke="#000" stroke-width="3"/>
<rect x="2244" y="1403" width="35.5" height="11" fill="#f18f4e" stroke="#000" stroke-width="3" rx="2"/>
<rect x="2341" y="1347" width="25.4" height="66" fill="#f18f4e" stroke="#000" stroke-width="3"/>
<rect x="2335.5" y="1413" width="35.5" height="15.5" fill="#f18f4e" stroke="#000" stroke-width="3" rx="2"/>
<line x1="2341" y1="1372" x2="2366" y2="1372" stroke="#000" stroke-width="2.4"/>
<rect x="2330" y="1335" width="11" height="57" fill="#000"/>
<rect x="2333" y="1340" width="5" height="50" fill="#f18f4e"/>
<rect x="2329" y="1298" width="37" height="10" fill="#000"/>
<rect x="2340" y="1308" width="16" height="38" fill="#f18f4e" stroke="#000" stroke-width="2.4"/>
<rect x="2294" y="1318" width="36" height="26" fill="#000"/>
<line x1="2366" y1="1363" x2="2395" y2="1363" stroke="#000" stroke-width="2.4"/>
<rect x="2380" y="1357" width="8" height="13" fill="#000" stroke="#000" stroke-width="1" rx="3"/>
<circle cx="2372" cy="1340" r="4" fill="#000"/>
<rect x="2232" y="1300" width="18" height="30" fill="#f18f4e" stroke="#000" stroke-width="2.4"/>
<rect x="2262" y="1310" width="23" height="15" fill="#f18f4e" stroke="#000" stroke-width="2"/>
<rect x="2256" y="1300" width="40" height="12" fill="#000"/>
<!-- p_misc -->
<line x1="1269.8" y1="1188" x2="1404.7" y2="1240" stroke="#000" stroke-width="3"/>
<line x1="1444.4" y1="1243.3" x2="1524" y2="1251" stroke="#000" stroke-width="2.2"/>
<line x1="1492.9" y1="1150" x2="1546.5" y2="1168" stroke="#000" stroke-width="2.4"/>
<line x1="1376" y1="1246" x2="1478" y2="1239" stroke="#000" stroke-width="2.2"/>
<line x1="1376" y1="1246" x2="1373.5" y2="1172" stroke="#000" stroke-width="2.2"/>
<line x1="1478" y1="1239" x2="1472" y2="1190" stroke="#000" stroke-width="2.2"/>
<circle cx="1061" cy="1122" r="36" fill="#fff" stroke="#000" stroke-width="5"/>
<circle cx="1061" cy="1122" r="28" fill="#fff" stroke="#000" stroke-width="4"/>
<circle cx="1061" cy="1122" r="19" fill="#fff" stroke="#000" stroke-width="5"/>
<rect x="1024" y="1110.2" width="76" height="10.4" fill="#000"/>
<rect x="1040" y="1129" width="70" height="17.5" fill="#000"/>
<rect x="985" y="1108" width="45" height="60" fill="#000"/>
<rect x="1007" y="1118" width="3" height="3" fill="#fff"/>
<rect x="1007" y="1130" width="3" height="3" fill="#fff"/>
<rect x="1007" y="1141" width="3" height="3" fill="#fff"/>
<rect x="1007" y="1153" width="3" height="3" fill="#fff"/>
<path d="M1030 1146 Q1045 1162 1075 1155 L1100 1146 Z" fill="#000" stroke="#000" stroke-width="1"/>
<circle cx="1423.7" cy="1186.2" r="47" fill="#fff" stroke="#000" stroke-width="3.6"/>
<rect x="1460.1" y="1188" width="9.4" height="8" fill="#000" transform="rotate(98 1464.8 1192)"/>
<rect x="1453.5" y="1205.2" width="9.4" height="8" fill="#000" transform="rotate(123.7 1458.2 1209.2)"/>
<rect x="1440.1" y="1217.9" width="9.4" height="8" fill="#000" transform="rotate(149.4 1444.8 1221.9)"/>
<rect x="1422.5" y="1223.6" width="9.4" height="8" fill="#000" transform="rotate(175.1 1427.2 1227.6)"/>
<rect x="1404.2" y="1221" width="9.4" height="8" fill="#000" transform="rotate(200.9 1408.9 1225)"/>
<rect x="1388.9" y="1210.7" width="9.4" height="8" fill="#000" transform="rotate(226.6 1393.6 1214.7)"/>
<rect x="1379.5" y="1194.8" width="9.4" height="8" fill="#000" transform="rotate(252.3 1384.2 1198.8)"/>
<rect x="1377.9" y="1176.4" width="9.4" height="8" fill="#000" transform="rotate(278 1382.6 1180.4)"/>
<rect x="1384.5" y="1159.2" width="9.4" height="8" fill="#000" transform="rotate(303.7 1389.2 1163.2)"/>
<rect x="1397.9" y="1146.5" width="9.4" height="8" fill="#000" transform="rotate(329.4 1402.6 1150.5)"/>
<rect x="1415.5" y="1140.8" width="9.4" height="8" fill="#000" transform="rotate(355.1 1420.2 1144.8)"/>
<rect x="1433.8" y="1143.4" width="9.4" height="8" fill="#000" transform="rotate(380.9 1438.5 1147.4)"/>
<rect x="1449.1" y="1153.7" width="9.4" height="8" fill="#000" transform="rotate(406.6 1453.8 1157.7)"/>
<rect x="1458.5" y="1169.6" width="9.4" height="8" fill="#000" transform="rotate(432.3 1463.2 1173.6)"/>
<circle cx="1423.7" cy="1186.2" r="28" fill="#fff" stroke="#000" stroke-width="4.2"/>
<circle cx="1423.7" cy="1186.2" r="21" fill="none" stroke="#000" stroke-width="9" stroke-dasharray="14 12"/>
<circle cx="1423.7" cy="1186.2" r="10" fill="#fff" stroke="#000" stroke-width="2.6"/>
<path d="M1421.7 1198.2 A6 6 0 0 0 1433.7 1192.2" fill="none" stroke="#000" stroke-width="2.4"/>
<rect x="1380" y="1155.6" width="122" height="10.4" fill="#000"/>
<line x1="1236" y1="1118" x2="1430" y2="1132" stroke="#000" stroke-width="2"/>
<line x1="1440" y1="1134" x2="1502" y2="1160" stroke="#000" stroke-width="2.4"/>
<circle cx="1297.4" cy="1159.4" r="38" fill="none" stroke="#000" stroke-width="4.4"/>
<circle cx="1297.4" cy="1159.4" r="34.4" fill="none" stroke="#fff" stroke-width="1.2"/>
<circle cx="1297.4" cy="1159.4" r="30" fill="none" stroke="#000" stroke-width="3"/>
<circle cx="1297.4" cy="1159.4" r="25" fill="none" stroke="#000" stroke-width="3.4" stroke-dasharray="11 7"/>
<circle cx="1297.4" cy="1159.4" r="16" fill="none" stroke="#000" stroke-width="4.4"/>
<rect x="1318.8" y="1165.2" width="8" height="6.8" fill="#000"/>
<rect x="1292.5" y="1183" width="8" height="6.8" fill="#000"/>
<rect x="1267.4" y="1163.4" width="8" height="6.8" fill="#000"/>
<rect x="1278.3" y="1133.6" width="8" height="6.8" fill="#000"/>
<rect x="1310" y="1134.7" width="8" height="6.8" fill="#000"/>
<rect x="1262" y="1129" width="74" height="11" fill="#000"/>
<circle cx="1550" cy="1211.3" r="38" fill="none" stroke="#000" stroke-width="4.4"/>
<circle cx="1550" cy="1211.3" r="34.4" fill="none" stroke="#fff" stroke-width="1.2"/>
<circle cx="1550" cy="1211.3" r="30" fill="none" stroke="#000" stroke-width="3"/>
<circle cx="1550" cy="1211.3" r="25" fill="none" stroke="#000" stroke-width="3.4" stroke-dasharray="11 7"/>
<circle cx="1550" cy="1211.3" r="16" fill="none" stroke="#000" stroke-width="4.4"/>
<rect x="1571.4" y="1217.1" width="8" height="6.8" fill="#000"/>
<rect x="1545.1" y="1234.9" width="8" height="6.8" fill="#000"/>
<rect x="1520" y="1215.3" width="8" height="6.8" fill="#000"/>
<rect x="1530.9" y="1185.5" width="8" height="6.8" fill="#000"/>
<rect x="1562.6" y="1186.6" width="8" height="6.8" fill="#000"/>
<line x1="1546" y1="1207" x2="1554" y2="1215" stroke="#000" stroke-width="1.6"/>
<line x1="1546" y1="1215" x2="1554" y2="1207" stroke="#000" stroke-width="1.6"/>
<path d="M1477 1092 q0 -5 5 -5 h8 q5 0 5 5 h8 v18 h-26 Z" fill="#000" stroke="#000" stroke-width="1"/>
<rect x="1475.6" y="1092" width="27.6" height="18" fill="#000"/>
<rect x="1475.6" y="1162" width="27.6" height="26" fill="#000"/>
<path d="M1478 1188 h24 v3 q-2 5 -12 5 q-10 0 -12 -5 Z" fill="#000" stroke="#000" stroke-width="1"/>
<rect x="1484" y="1098" width="2.4" height="10" fill="#fef208"/>
<rect x="1484" y="1168" width="2.4" height="12" fill="#fef208"/>
<rect x="1490" y="1098" width="2.4" height="10" fill="#fef208"/>
<rect x="1490" y="1168" width="2.4" height="12" fill="#fef208"/>
<rect x="1496" y="1098" width="2.4" height="10" fill="#fef208"/>
<rect x="1496" y="1168" width="2.4" height="12" fill="#fef208"/>
<line x1="1478" y1="1110" x2="1478" y2="1162" stroke="#000" stroke-width="1.8"/>
<line x1="1484.5" y1="1110" x2="1484.5" y2="1162" stroke="#000" stroke-width="1.8"/>
<line x1="1490" y1="1110" x2="1490" y2="1162" stroke="#000" stroke-width="1.8"/>
<rect x="1449" y="1270.6" width="41" height="18.8" fill="#11d144" stroke="#000" stroke-width="3.4" rx="3"/>
<rect x="1449" y="1266" width="131" height="5.5" fill="#000"/>
<path d="M1460 1270 v-6 q0 -4 4 -4 h6 q4 0 4 4 v6 Z" fill="#000" stroke="#000" stroke-width="1"/>
<path d="M1493 1270 v-6 q0 -4 4 -4 h6 q4 0 4 4 v6 Z" fill="#000" stroke="#000" stroke-width="1"/>
<path d="M1531 1270 v-6 q0 -4 4 -4 h6 q4 0 4 4 v6 Z" fill="#000" stroke="#000" stroke-width="1"/>
<path d="M1574 1270 v-6 q0 -4 4 -4 h6 q4 0 4 4 v6 Z" fill="#000" stroke="#000" stroke-width="1"/>
<rect x="1467" y="1289" width="133" height="3.5" fill="#000"/>
<path d="M1460 1290 v5 q0 4 4 4 h6 q4 0 4 -4 v-5 Z" fill="#000" stroke="#000" stroke-width="1"/>
<path d="M1574 1290 v5 q0 4 4 4 h6 q4 0 4 -4 v-5 Z" fill="#000" stroke="#000" stroke-width="1"/>
<line x1="1468" y1="1274" x2="1468" y2="1287" stroke="#000" stroke-width="2"/>
<rect x="1486" y="990.4" width="4" height="19.6" fill="#000"/>
<path d="M1493 1010 v4 q0 4 4 4 h6 q4 0 4 -4 v-4 Z" fill="#000" stroke="#000" stroke-width="1"/>
<path d="M1528 1010 v4 q0 4 4 4 h6 q4 0 4 -4 v-4 Z" fill="#000" stroke="#000" stroke-width="1"/>
<path d="M1568 1010 v4 q0 4 4 4 h6 q4 0 4 -4 v-4 Z" fill="#000" stroke="#000" stroke-width="1"/>
<path d="M1568 991 v-4 q0 -4 4 -4 h6 q4 0 4 4 v4 Z" fill="#000" stroke="#000" stroke-width="1"/>
<path d="M1879 1134.7 A167 167 0 0 1 1800.5 1279.2" fill="none" stroke="#000" stroke-width="2"/>
<path d="M1872 1134.8 A160 160 0 0 1 1796.8 1273.3" fill="none" stroke="#000" stroke-width="2"/>
<path d="M1618.6 1276 A167 167 0 0 1 1545 1134.7" fill="none" stroke="#000" stroke-width="2"/>
<path d="M1622.5 1270.2 A160 160 0 0 1 1552 1134.8" fill="none" stroke="#000" stroke-width="2"/>
<path d="M1028 1090 Q1060 1140 1101 1169" fill="none" stroke="#000" stroke-width="1.4"/>
<path d="M1003 1095 Q1010 1130 1030 1160" fill="none" stroke="#000" stroke-width="1.4"/>
<line x1="204" y1="1137.8" x2="387" y2="1137.8" stroke="#000" stroke-width="3" stroke-linecap="round"/>
<line x1="414" y1="1137.8" x2="451" y2="1137.8" stroke="#000" stroke-width="3" stroke-linecap="round"/>
<line x1="462.8" y1="1137.8" x2="465.2" y2="1137.8" stroke="#000" stroke-width="3" stroke-linecap="round"/>
<line x1="479" y1="1137.8" x2="642" y2="1137.8" stroke="#000" stroke-width="3" stroke-linecap="round"/>
<line x1="734.3" y1="1137.8" x2="898.6" y2="1137.8" stroke="#000" stroke-width="3" stroke-linecap="round"/>
<line x1="927.7" y1="1137.8" x2="959" y2="1137.8" stroke="#000" stroke-width="3" stroke-linecap="round"/>
<line x1="1504" y1="1137.8" x2="1666.4" y2="1137.8" stroke="#000" stroke-width="3" stroke-linecap="round"/>
<line x1="1691" y1="1137.8" x2="1734" y2="1137.8" stroke="#000" stroke-width="3" stroke-linecap="round"/>
<line x1="1760" y1="1137.8" x2="1922.5" y2="1137.8" stroke="#000" stroke-width="3" stroke-linecap="round"/>
<line x1="1951.6" y1="1137.8" x2="1986.5" y2="1137.8" stroke="#000" stroke-width="3" stroke-linecap="round"/>
<line x1="2015" y1="1137.8" x2="2078" y2="1137.8" stroke="#000" stroke-width="3" stroke-linecap="round"/>
<line x1="2208.7" y1="1137.8" x2="2434.3" y2="1137.8" stroke="#000" stroke-width="3" stroke-linecap="round"/>
<line x1="2463.5" y1="1137.8" x2="2498.8" y2="1137.8" stroke="#000" stroke-width="3" stroke-linecap="round"/>
<line x1="2528" y1="1137.8" x2="2655" y2="1137.8" stroke="#000" stroke-width="3" stroke-linecap="round"/>
<line x1="1712" y1="1117" x2="1712" y2="1159" stroke="#000" stroke-width="3" stroke-linecap="round"/>
<circle cx="1097.5" cy="626" r="117" fill="none" stroke="#000" stroke-width="2.1" stroke-dasharray="50 13"/>
<circle cx="1354" cy="626" r="117" fill="none" stroke="#000" stroke-width="2.1" stroke-dasharray="50 13"/>
<circle cx="1196" cy="897" r="122.5" fill="none" stroke="#000" stroke-width="2.1" stroke-dasharray="52 13"/>
<rect x="1470" y="1443.5" width="472" height="20.2" fill="#000"/>
<rect x="1470" y="1448" width="78" height="2.7" fill="#fff"/>
<rect x="1470" y="1453.6" width="78" height="5.6" fill="#fff"/>
<rect x="1581" y="1448" width="138" height="2.7" fill="#fff"/>
<rect x="1581" y="1453.6" width="138" height="5.6" fill="#fff"/>
<rect x="1765" y="1448" width="129" height="2.7" fill="#fff"/>
<rect x="1765" y="1453.6" width="129" height="5.6" fill="#fff"/>
<rect x="1555.5" y="1447" width="2.4" height="14" fill="#fff"/>
<rect x="1562.3" y="1447" width="2.4" height="14" fill="#fff"/>
<rect x="1736.5" y="1447" width="2.4" height="14" fill="#fff"/>
<rect x="1745.5" y="1447" width="2.4" height="14" fill="#fff"/>
<rect x="1913" y="1447" width="2.4" height="14" fill="#fff"/>
<rect x="1921" y="1447" width="2.4" height="14" fill="#fff"/>
<rect x="1484.6" y="1464.8" width="800.4" height="20.2" fill="#000"/>
<rect x="1488" y="1470.5" width="795" height="2.2" fill="#fff"/>
<rect x="1488" y="1477.2" width="795" height="2.8" fill="#fff"/>
<circle cx="1589" cy="1485" r="3" fill="#000"/>
<circle cx="1699" cy="1485" r="3" fill="#000"/>
<circle cx="1809.5" cy="1485" r="3" fill="#000"/>
<circle cx="1886" cy="1485" r="3" fill="#000"/>
<path d="M1510.5 1485 H1570 V1496 L1564 1504.2 H1520 L1510.5 1493 Z" fill="#000" stroke="#000" stroke-width="1"/>
<rect x="1534" y="1491.8" width="26" height="5.6" fill="#fff"/>
<rect x="1907.3" y="1482.8" width="18" height="10.2" fill="#000"/>
<rect x="1445" y="1447.7" width="25" height="13.3" fill="#fff" stroke="#000" stroke-width="2.4"/>
<line x1="1445" y1="1454" x2="1490" y2="1454" stroke="#000" stroke-width="2"/>
<rect x="1936" y="1447" width="6" height="15" fill="#000"/>
<rect x="1450" y="1461" width="19.4" height="187" fill="#fff" stroke="#000" stroke-width="2.4"/>
<line x1="1458.6" y1="1461" x2="1458.6" y2="1648" stroke="#000" stroke-width="2"/>
<line x1="1462.4" y1="1461" x2="1462.4" y2="1648" stroke="#000" stroke-width="2"/>
<circle cx="1460" cy="1421.4" r="21" fill="none" stroke="#000" stroke-width="1.8"/>
<rect x="1447" y="1395" width="25" height="53" fill="none" stroke="#000" stroke-width="2"/>
<line x1="1452" y1="1395" x2="1452" y2="1448" stroke="#000" stroke-width="1.6"/>
<line x1="1457" y1="1395" x2="1457" y2="1448" stroke="#000" stroke-width="1.6"/>
<line x1="1463" y1="1395" x2="1463" y2="1448" stroke="#000" stroke-width="1.6"/>
<line x1="1468" y1="1395" x2="1468" y2="1448" stroke="#000" stroke-width="1.6"/>
<path d="M1463 1432 A12 12 0 0 0 1478 1415" fill="none" stroke="#000" stroke-width="1.6"/>
<path d="M1462 1383 L1480 1367 L1487 1367 L1487 1390 L1462 1390 Z" fill="#fff" stroke="#000" stroke-width="1.6" stroke-linejoin="round"/>
<line x1="1462" y1="1390" x2="1500" y2="1390" stroke="#000" stroke-width="1.6"/>
<line x1="1466" y1="1396" x2="1490" y2="1396" stroke="#000" stroke-width="3"/>
<rect x="1481.5" y="1565.5" width="60" height="156.5" fill="#fff" stroke="#000" stroke-width="2.6"/>
<rect x="1536.5" y="1565" width="6.5" height="158" fill="#000"/>
<path d="M1487 1568 Q1512 1563 1536 1568" fill="none" stroke="#000" stroke-width="1.6"/>
<path d="M1487 1720 Q1512 1725 1536 1720" fill="none" stroke="#000" stroke-width="1.6"/>
<line x1="1533.5" y1="1570" x2="1533.5" y2="1718" stroke="#000" stroke-width="1.2"/>
<rect x="1473.5" y="1561.5" width="6.5" height="167.5" fill="#fff" stroke="#000" stroke-width="2.2"/>
<line x1="1485.5" y1="1566" x2="1485.5" y2="1722" stroke="#000" stroke-width="1.4"/>
<path d="M1486.5 1575 L1497.7 1573 L1497.7 1587 L1486.5 1585 Z" fill="#fff" stroke="#000" stroke-width="2" stroke-linejoin="round"/>
<rect x="1483" y="1572" width="4" height="16" fill="#fff" stroke="#000" stroke-width="1.6"/>
<path d="M1473 1582 q-5 10 0 22" fill="none" stroke="#000" stroke-width="1.4"/>
<path d="M1473 1635 q-5 12 0 26" fill="none" stroke="#000" stroke-width="1.4"/>
<rect x="1446" y="1647" width="28.5" height="40" fill="#fff" stroke="#000" stroke-width="2.6" rx="4"/>
<rect x="1451" y="1654" width="18" height="26" fill="none" stroke="#000" stroke-width="2" rx="4"/>
<line x1="1451" y1="1664" x2="1469" y2="1664" stroke="#000" stroke-width="1.6"/>
<line x1="1451" y1="1672" x2="1469" y2="1672" stroke="#000" stroke-width="1.6"/>
<path d="M1449 1687 V1722 H1468 L1473 1728" fill="none" stroke="#000" stroke-width="2"/>
<path d="M1454 1690 V1716 L1470 1712" fill="none" stroke="#000" stroke-width="1.6"/>
<line x1="1449" y1="1590" x2="1449" y2="1640" stroke="#000" stroke-width="1.4"/>
<path d="M1694 1564.8 L1709.3 1565.5 C1722 1572 1733.4 1615 1733.4 1647.5 C1733.4 1680 1722 1723 1709.3 1729.5 L1694 1730.2" fill="none" stroke="#000" stroke-width="2.3"/>
<path d="M1708 1567 C1694 1568 1686 1573 1680.3 1581.4 C1668 1605 1659.6 1628 1659.6 1647.5 C1659.6 1667 1668 1690 1680.3 1713.6 C1686 1722 1694 1727 1708 1728" fill="none" stroke="#000" stroke-width="2.3"/>
<path d="M1682 1579 Q1676 1590 1673 1601" fill="none" stroke="#000" stroke-width="3.5"/>
<path d="M1673 1694 Q1676 1705 1682 1716" fill="none" stroke="#000" stroke-width="3.5"/>
<path d="M1690 1620 Q1697 1617 1707 1619" fill="none" stroke="#000" stroke-width="3.3"/>
<path d="M1690 1678 Q1697 1681 1707 1679" fill="none" stroke="#000" stroke-width="3.3"/>
<ellipse cx="1697.5" cy="1649" rx="33" ry="30" fill="#fff" stroke="#000" stroke-width="2.3"/>
<path d="M1662 1643 L1653.6 1649 L1660 1656" fill="none" stroke="#000" stroke-width="2.3"/>
<path d="M1667 1636 L1674 1634.5 M1678 1634 L1683 1633.8" fill="none" stroke="#000" stroke-width="2"/>
<path d="M1694 1564.8 L1652.7 1567.6 L1630 1565.5" fill="none" stroke="#000" stroke-width="2.3"/>
<path d="M1628 1583.4 L1648 1584.5 Q1658 1586.5 1666 1590.5" fill="none" stroke="#000" stroke-width="2.3"/>
<line x1="1630.7" y1="1566" x2="1629.5" y2="1583.4" stroke="#000" stroke-width="2.3"/>
<line x1="1650" y1="1567.5" x2="1648.5" y2="1584.5" stroke="#000" stroke-width="2.3"/>
<path d="M1630 1565.5 C1615 1561 1600 1560 1592 1567 C1588 1572 1588 1580 1591 1585 C1598 1582 1603 1581 1607 1584 C1614 1587 1622 1586 1628 1583.4" fill="none" stroke="#000" stroke-width="2.3"/>
<path d="M1593 1580 C1600 1572 1608 1571 1614 1576 L1609 1580 C1603 1578 1599 1579 1596 1582" fill="none" stroke="#000" stroke-width="3.3"/>
<path d="M1694 1731.2 L1652.7 1728.4 L1630 1730.5" fill="none" stroke="#000" stroke-width="2.3"/>
<path d="M1628 1712.6 L1648 1711.5 Q1658 1709.5 1666 1705.5" fill="none" stroke="#000" stroke-width="2.3"/>
<line x1="1630.7" y1="1730" x2="1629.5" y2="1712.6" stroke="#000" stroke-width="2.3"/>
<line x1="1650" y1="1728.5" x2="1648.5" y2="1711.5" stroke="#000" stroke-width="2.3"/>
<path d="M1630 1730.5 C1615 1735 1600 1736 1592 1729 C1588 1724 1588 1716 1591 1711 C1598 1714 1603 1715 1607 1712 C1614 1709 1622 1710 1628 1712.6" fill="none" stroke="#000" stroke-width="2.3"/>
<path d="M1593 1716 C1600 1724 1608 1725 1614 1720 L1609 1716 C1603 1718 1599 1717 1596 1714" fill="none" stroke="#000" stroke-width="3.3"/>
<text x="415.6" y="1442.4" font-size="36" text-anchor="start" textLength="89" lengthAdjust="spacingAndGlyphs">SORT</text>
<text x="389" y="1482.5" font-size="36" text-anchor="start" textLength="134.3" lengthAdjust="spacingAndGlyphs">STATION</text>
<text x="744" y="1454" font-size="36" text-anchor="start" textLength="90.6" lengthAdjust="spacingAndGlyphs">MARK</text>
<text x="863.4" y="1454" font-size="36" text-anchor="start" textLength="135.8" lengthAdjust="spacingAndGlyphs">STATION</text>
<text x="1624" y="1540.8" font-size="36" text-anchor="start" textLength="185" lengthAdjust="spacingAndGlyphs">AKRODYNE</text>
<text x="2052" y="1540.8" font-size="36" text-anchor="start" textLength="154" lengthAdjust="spacingAndGlyphs">HANDLER</text>
<text x="1925.6" y="1708.7" font-size="38" text-anchor="start" textLength="178" lengthAdjust="spacingAndGlyphs">OPERATOR</text>
<text x="2131.8" y="1708.7" font-size="38" text-anchor="start" textLength="76.2" lengthAdjust="spacingAndGlyphs">SIDE</text>
</svg>
</body></html>
